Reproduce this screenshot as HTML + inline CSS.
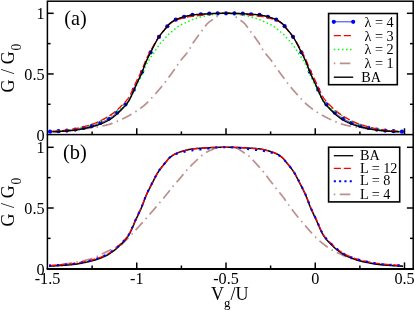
<!DOCTYPE html>
<html><head><meta charset="utf-8"><title>chart</title>
<style>html,body{margin:0;padding:0;background:#fff;}body{width:415px;height:311px;overflow:hidden;font-family:"Liberation Serif",serif;}</style>
</head><body>
<svg width="415" height="311" viewBox="0 0 415 311" style="display:block;will-change:transform">
<rect width="415" height="311" fill="#fff"/>
<path d="M49.00 131.93 L49.71 131.88 L50.42 131.84 L51.13 131.79 L51.84 131.75 L52.55 131.70 L53.26 131.65 L53.97 131.60 L54.68 131.55 L55.38 131.49 L56.09 131.44 L56.80 131.39 L57.51 131.33 L58.22 131.28 L58.93 131.22 L59.64 131.16 L60.35 131.10 L61.06 131.04 L61.77 130.98 L62.48 130.92 L63.19 130.86 L63.90 130.80 L64.61 130.74 L65.32 130.68 L66.03 130.61 L66.74 130.55 L67.44 130.49 L68.15 130.42 L68.86 130.36 L69.57 130.30 L70.28 130.23 L70.99 130.17 L71.70 130.10 L72.41 130.04 L73.12 129.97 L73.83 129.90 L74.54 129.84 L75.25 129.77 L75.96 129.70 L76.67 129.63 L77.38 129.56 L78.09 129.49 L78.80 129.42 L79.51 129.35 L80.21 129.28 L80.92 129.20 L81.63 129.13 L82.34 129.05 L83.05 128.97 L83.76 128.89 L84.47 128.81 L85.18 128.73 L85.89 128.65 L86.60 128.56 L87.31 128.47 L88.02 128.38 L88.73 128.29 L89.44 128.20 L90.15 128.10 L90.86 128.01 L91.57 127.91 L92.27 127.80 L92.98 127.70 L93.69 127.59 L94.40 127.48 L95.11 127.37 L95.82 127.25 L96.53 127.13 L97.24 127.01 L97.95 126.88 L98.66 126.75 L99.37 126.62 L100.08 126.48 L100.79 126.34 L101.50 126.20 L102.21 126.05 L102.92 125.90 L103.63 125.74 L104.33 125.58 L105.04 125.41 L105.75 125.24 L106.46 125.07 L107.17 124.89 L107.88 124.71 L108.59 124.52 L109.30 124.32 L110.01 124.11 L110.72 123.88 L111.43 123.64 L112.14 123.39 L112.85 123.13 L113.56 122.86 L114.27 122.58 L114.98 122.30 L115.69 122.00 L116.39 121.71 L117.10 121.40 L117.81 121.09 L118.52 120.78 L119.23 120.46 L119.94 120.14 L120.65 119.82 L121.36 119.50 L122.07 119.18 L122.78 118.84 L123.49 118.50 L124.20 118.16 L124.91 117.81 L125.62 117.45 L126.33 117.09 L127.04 116.72 L127.75 116.34 L128.45 115.96 L129.16 115.57 L129.87 115.18 L130.58 114.77 L131.29 114.36 L132.00 113.95 L132.71 113.52 L133.42 113.09 L134.13 112.65 L134.84 112.21 L135.55 111.75 L136.26 111.29 L136.97 110.82 L137.68 110.34 L138.39 109.84 L139.10 109.34 L139.81 108.82 L140.52 108.30 L141.22 107.76 L141.93 107.21 L142.64 106.64 L143.35 106.07 L144.06 105.48 L144.77 104.88 L145.48 104.26 L146.19 103.63 L146.90 102.99 L147.61 102.33 L148.32 101.66 L149.03 100.91 L149.74 100.12 L150.45 99.31 L151.16 98.51 L151.87 97.72 L152.58 96.94 L153.28 96.16 L153.99 95.38 L154.70 94.60 L155.41 93.81 L156.12 93.02 L156.83 92.23 L157.54 91.43 L158.25 90.62 L158.96 89.81 L159.67 88.98 L160.38 88.14 L161.09 87.29 L161.80 86.42 L162.51 85.54 L163.22 84.64 L163.93 83.73 L164.64 82.81 L165.34 81.87 L166.05 80.93 L166.76 79.98 L167.47 79.03 L168.18 78.06 L168.89 77.10 L169.60 76.13 L170.31 75.16 L171.02 74.20 L171.73 73.23 L172.44 72.26 L173.15 71.28 L173.86 70.28 L174.57 69.28 L175.28 68.27 L175.99 67.25 L176.70 66.24 L177.40 65.22 L178.11 64.21 L178.82 63.21 L179.53 62.22 L180.24 61.24 L180.95 60.28 L181.66 59.33 L182.37 58.41 L183.08 57.54 L183.79 56.70 L184.50 55.89 L185.21 55.08 L185.92 54.26 L186.63 53.41 L187.34 52.51 L188.05 51.54 L188.76 50.46 L189.46 49.27 L190.17 48.02 L190.88 46.74 L191.59 45.46 L192.30 44.21 L193.01 43.04 L193.72 41.95 L194.43 40.91 L195.14 39.89 L195.85 38.91 L196.56 37.94 L197.27 36.99 L197.98 36.05 L198.69 35.12 L199.40 34.20 L200.11 33.27 L200.82 32.34 L201.53 31.40 L202.23 30.43 L202.94 29.43 L203.65 28.41 L204.36 27.39 L205.07 26.40 L205.78 25.45 L206.49 24.57 L207.20 23.76 L207.91 23.05 L208.62 22.43 L209.33 21.85 L210.04 21.32 L210.75 20.82 L211.46 20.34 L212.17 19.86 L212.88 19.37 L213.59 18.86 L214.29 18.34 L215.00 17.80 L215.71 17.27 L216.42 16.75 L217.13 16.25 L217.84 15.79 L218.55 15.36 L219.26 14.91 L219.97 14.47 L220.68 14.07 L221.39 13.73 L222.10 13.49 L222.81 13.36 L223.52 13.25 L224.23 13.16 L224.94 13.10 L225.65 13.06 L226.35 13.06 L227.06 13.10 L227.77 13.16 L228.48 13.25 L229.19 13.36 L229.90 13.49 L230.61 13.73 L231.32 14.07 L232.03 14.47 L232.74 14.91 L233.45 15.36 L234.16 15.79 L234.87 16.25 L235.58 16.75 L236.29 17.27 L237.00 17.80 L237.71 18.34 L238.41 18.86 L239.12 19.37 L239.83 19.86 L240.54 20.34 L241.25 20.82 L241.96 21.32 L242.67 21.85 L243.38 22.43 L244.09 23.05 L244.80 23.76 L245.51 24.57 L246.22 25.45 L246.93 26.40 L247.64 27.39 L248.35 28.41 L249.06 29.43 L249.77 30.43 L250.47 31.40 L251.18 32.34 L251.89 33.27 L252.60 34.20 L253.31 35.12 L254.02 36.05 L254.73 36.99 L255.44 37.94 L256.15 38.91 L256.86 39.89 L257.57 40.91 L258.28 41.95 L258.99 43.04 L259.70 44.21 L260.41 45.46 L261.12 46.74 L261.83 48.02 L262.54 49.27 L263.24 50.46 L263.95 51.54 L264.66 52.51 L265.37 53.41 L266.08 54.26 L266.79 55.08 L267.50 55.89 L268.21 56.70 L268.92 57.54 L269.63 58.41 L270.34 59.33 L271.05 60.28 L271.76 61.24 L272.47 62.22 L273.18 63.21 L273.89 64.21 L274.60 65.22 L275.30 66.24 L276.01 67.25 L276.72 68.27 L277.43 69.28 L278.14 70.28 L278.85 71.28 L279.56 72.26 L280.27 73.23 L280.98 74.20 L281.69 75.16 L282.40 76.13 L283.11 77.10 L283.82 78.06 L284.53 79.03 L285.24 79.98 L285.95 80.93 L286.66 81.87 L287.36 82.81 L288.07 83.73 L288.78 84.64 L289.49 85.54 L290.20 86.42 L290.91 87.29 L291.62 88.14 L292.33 88.98 L293.04 89.81 L293.75 90.62 L294.46 91.43 L295.17 92.23 L295.88 93.02 L296.59 93.81 L297.30 94.60 L298.01 95.38 L298.72 96.16 L299.42 96.94 L300.13 97.72 L300.84 98.51 L301.55 99.31 L302.26 100.12 L302.97 100.91 L303.68 101.66 L304.39 102.33 L305.10 102.99 L305.81 103.63 L306.52 104.26 L307.23 104.88 L307.94 105.48 L308.65 106.07 L309.36 106.64 L310.07 107.21 L310.78 107.76 L311.48 108.30 L312.19 108.82 L312.90 109.34 L313.61 109.84 L314.32 110.34 L315.03 110.82 L315.74 111.29 L316.45 111.75 L317.16 112.21 L317.87 112.65 L318.58 113.09 L319.29 113.52 L320.00 113.95 L320.71 114.36 L321.42 114.77 L322.13 115.18 L322.84 115.57 L323.55 115.96 L324.25 116.34 L324.96 116.72 L325.67 117.09 L326.38 117.45 L327.09 117.81 L327.80 118.16 L328.51 118.50 L329.22 118.84 L329.93 119.18 L330.64 119.50 L331.35 119.82 L332.06 120.14 L332.77 120.46 L333.48 120.78 L334.19 121.09 L334.90 121.40 L335.61 121.71 L336.31 122.00 L337.02 122.30 L337.73 122.58 L338.44 122.86 L339.15 123.13 L339.86 123.39 L340.57 123.64 L341.28 123.88 L341.99 124.11 L342.70 124.32 L343.41 124.52 L344.12 124.71 L344.83 124.89 L345.54 125.07 L346.25 125.24 L346.96 125.41 L347.67 125.58 L348.37 125.74 L349.08 125.90 L349.79 126.05 L350.50 126.20 L351.21 126.34 L351.92 126.48 L352.63 126.62 L353.34 126.75 L354.05 126.88 L354.76 127.01 L355.47 127.13 L356.18 127.25 L356.89 127.37 L357.60 127.48 L358.31 127.59 L359.02 127.70 L359.73 127.80 L360.43 127.91 L361.14 128.01 L361.85 128.10 L362.56 128.20 L363.27 128.29 L363.98 128.38 L364.69 128.47 L365.40 128.56 L366.11 128.65 L366.82 128.73 L367.53 128.81 L368.24 128.89 L368.95 128.97 L369.66 129.05 L370.37 129.13 L371.08 129.20 L371.79 129.28 L372.49 129.35 L373.20 129.42 L373.91 129.49 L374.62 129.56 L375.33 129.63 L376.04 129.70 L376.75 129.77 L377.46 129.84 L378.17 129.90 L378.88 129.97 L379.59 130.04 L380.30 130.10 L381.01 130.17 L381.72 130.23 L382.43 130.30 L383.14 130.36 L383.85 130.42 L384.56 130.49 L385.26 130.55 L385.97 130.61 L386.68 130.68 L387.39 130.74 L388.10 130.80 L388.81 130.86 L389.52 130.92 L390.23 130.98 L390.94 131.04 L391.65 131.10 L392.36 131.16 L393.07 131.22 L393.78 131.28 L394.49 131.33 L395.20 131.39 L395.91 131.44 L396.62 131.49 L397.32 131.55 L398.03 131.60 L398.74 131.65 L399.45 131.70 L400.16 131.75 L400.87 131.79 L401.58 131.84 L402.29 131.88 L403.00 131.93" fill="none" stroke="rgb(188,143,143)" stroke-width="1.7" stroke-dasharray="1.5 4.5 10.5 4.5" stroke-dashoffset="15.2"/>
<path d="M50.00 131.67 L50.71 131.63 L51.41 131.59 L52.12 131.55 L52.82 131.52 L53.53 131.48 L54.23 131.44 L54.94 131.40 L55.64 131.36 L56.35 131.32 L57.05 131.28 L57.76 131.24 L58.46 131.20 L59.17 131.16 L59.88 131.12 L60.58 131.07 L61.29 131.03 L61.99 130.98 L62.70 130.93 L63.40 130.88 L64.11 130.82 L64.81 130.76 L65.52 130.70 L66.22 130.63 L66.93 130.56 L67.64 130.49 L68.34 130.41 L69.05 130.33 L69.75 130.25 L70.46 130.17 L71.16 130.08 L71.87 130.00 L72.57 129.91 L73.28 129.82 L73.98 129.73 L74.69 129.62 L75.39 129.52 L76.10 129.40 L76.81 129.28 L77.51 129.16 L78.22 129.03 L78.92 128.89 L79.63 128.75 L80.33 128.61 L81.04 128.47 L81.74 128.32 L82.45 128.17 L83.15 128.02 L83.86 127.87 L84.57 127.71 L85.27 127.56 L85.98 127.40 L86.68 127.25 L87.39 127.08 L88.09 126.91 L88.80 126.74 L89.50 126.56 L90.21 126.38 L90.91 126.19 L91.62 126.00 L92.32 125.80 L93.03 125.59 L93.74 125.38 L94.44 125.15 L95.15 124.92 L95.85 124.68 L96.56 124.43 L97.26 124.17 L97.97 123.90 L98.67 123.63 L99.38 123.34 L100.08 123.05 L100.79 122.75 L101.49 122.44 L102.20 122.12 L102.91 121.80 L103.61 121.46 L104.32 121.12 L105.02 120.77 L105.73 120.42 L106.43 120.05 L107.14 119.68 L107.84 119.29 L108.55 118.89 L109.25 118.46 L109.96 118.01 L110.67 117.55 L111.37 117.06 L112.08 116.56 L112.78 116.04 L113.49 115.51 L114.19 114.98 L114.90 114.43 L115.60 113.88 L116.31 113.30 L117.01 112.70 L117.72 112.08 L118.42 111.43 L119.13 110.77 L119.84 110.09 L120.54 109.41 L121.25 108.74 L121.95 108.07 L122.66 107.39 L123.36 106.69 L124.07 105.98 L124.77 105.23 L125.48 104.45 L126.18 103.63 L126.89 102.76 L127.60 101.83 L128.30 100.84 L129.01 99.73 L129.71 98.50 L130.42 97.15 L131.12 95.71 L131.83 94.20 L132.53 92.64 L133.24 91.05 L133.94 89.45 L134.65 87.85 L135.35 86.28 L136.06 84.76 L136.77 83.30 L137.47 81.87 L138.18 80.45 L138.88 79.03 L139.59 77.58 L140.29 76.11 L141.00 74.58 L141.70 72.98 L142.41 71.28 L143.11 69.44 L143.82 67.54 L144.53 65.63 L145.23 63.78 L145.94 62.04 L146.64 60.44 L147.35 58.91 L148.05 57.44 L148.76 56.00 L149.46 54.60 L150.17 53.21 L150.87 51.83 L151.58 50.43 L152.28 49.03 L152.99 47.62 L153.70 46.23 L154.40 44.85 L155.11 43.49 L155.81 42.17 L156.52 40.89 L157.22 39.67 L157.93 38.50 L158.63 37.40 L159.34 36.36 L160.04 35.36 L160.75 34.40 L161.45 33.48 L162.16 32.58 L162.87 31.71 L163.57 30.85 L164.28 30.00 L164.98 29.16 L165.69 28.31 L166.39 27.45 L167.10 26.57 L167.80 25.66 L168.51 24.79 L169.21 24.04 L169.92 23.42 L170.63 22.85 L171.33 22.31 L172.04 21.81 L172.74 21.34 L173.45 20.90 L174.15 20.49 L174.86 20.10 L175.56 19.74 L176.27 19.41 L176.97 19.11 L177.68 18.81 L178.38 18.54 L179.09 18.28 L179.80 18.04 L180.50 17.80 L181.21 17.58 L181.91 17.37 L182.62 17.17 L183.32 16.97 L184.03 16.78 L184.73 16.59 L185.44 16.39 L186.14 16.21 L186.85 16.02 L187.56 15.84 L188.26 15.67 L188.97 15.51 L189.67 15.36 L190.38 15.22 L191.08 15.09 L191.79 14.98 L192.49 14.89 L193.20 14.81 L193.90 14.74 L194.61 14.68 L195.31 14.62 L196.02 14.56 L196.73 14.51 L197.43 14.46 L198.14 14.41 L198.84 14.37 L199.55 14.32 L200.25 14.28 L200.96 14.23 L201.66 14.19 L202.37 14.14 L203.07 14.10 L203.78 14.05 L204.48 14.00 L205.19 13.95 L205.90 13.91 L206.60 13.86 L207.31 13.81 L208.01 13.77 L208.72 13.73 L209.42 13.68 L210.13 13.64 L210.83 13.61 L211.54 13.57 L212.24 13.54 L212.95 13.51 L213.66 13.48 L214.36 13.46 L215.07 13.44 L215.77 13.42 L216.48 13.41 L217.18 13.40 L217.89 13.38 L218.59 13.37 L219.30 13.36 L220.00 13.35 L220.71 13.34 L221.41 13.33 L222.12 13.32 L222.83 13.32 L223.53 13.31 L224.24 13.30 L224.94 13.30 L225.65 13.30 L226.35 13.30 L227.06 13.30 L227.76 13.30 L228.47 13.31 L229.17 13.32 L229.88 13.32 L230.59 13.33 L231.29 13.34 L232.00 13.35 L232.70 13.36 L233.41 13.37 L234.11 13.38 L234.82 13.40 L235.52 13.41 L236.23 13.42 L236.93 13.44 L237.64 13.46 L238.34 13.48 L239.05 13.51 L239.76 13.54 L240.46 13.57 L241.17 13.61 L241.87 13.64 L242.58 13.68 L243.28 13.73 L243.99 13.77 L244.69 13.81 L245.40 13.86 L246.10 13.91 L246.81 13.95 L247.52 14.00 L248.22 14.05 L248.93 14.10 L249.63 14.14 L250.34 14.19 L251.04 14.23 L251.75 14.28 L252.45 14.32 L253.16 14.37 L253.86 14.41 L254.57 14.46 L255.27 14.51 L255.98 14.56 L256.69 14.62 L257.39 14.68 L258.10 14.74 L258.80 14.81 L259.51 14.89 L260.21 14.98 L260.92 15.09 L261.62 15.22 L262.33 15.36 L263.03 15.51 L263.74 15.67 L264.44 15.84 L265.15 16.02 L265.86 16.21 L266.56 16.39 L267.27 16.59 L267.97 16.78 L268.68 16.97 L269.38 17.17 L270.09 17.37 L270.79 17.58 L271.50 17.80 L272.20 18.04 L272.91 18.28 L273.62 18.54 L274.32 18.81 L275.03 19.11 L275.73 19.41 L276.44 19.74 L277.14 20.10 L277.85 20.49 L278.55 20.90 L279.26 21.34 L279.96 21.81 L280.67 22.31 L281.37 22.85 L282.08 23.42 L282.79 24.04 L283.49 24.79 L284.20 25.66 L284.90 26.57 L285.61 27.45 L286.31 28.31 L287.02 29.16 L287.72 30.00 L288.43 30.85 L289.13 31.71 L289.84 32.58 L290.55 33.48 L291.25 34.40 L291.96 35.36 L292.66 36.36 L293.37 37.40 L294.07 38.50 L294.78 39.67 L295.48 40.89 L296.19 42.17 L296.89 43.49 L297.60 44.85 L298.30 46.23 L299.01 47.62 L299.72 49.03 L300.42 50.43 L301.13 51.83 L301.83 53.21 L302.54 54.60 L303.24 56.00 L303.95 57.44 L304.65 58.91 L305.36 60.44 L306.06 62.04 L306.77 63.78 L307.47 65.63 L308.18 67.54 L308.89 69.44 L309.59 71.28 L310.30 72.98 L311.00 74.58 L311.71 76.11 L312.41 77.58 L313.12 79.03 L313.82 80.45 L314.53 81.87 L315.23 83.30 L315.94 84.76 L316.65 86.28 L317.35 87.85 L318.06 89.45 L318.76 91.05 L319.47 92.64 L320.17 94.20 L320.88 95.71 L321.58 97.15 L322.29 98.50 L322.99 99.73 L323.70 100.84 L324.40 101.83 L325.11 102.76 L325.82 103.63 L326.52 104.45 L327.23 105.23 L327.93 105.98 L328.64 106.69 L329.34 107.39 L330.05 108.07 L330.75 108.74 L331.46 109.41 L332.16 110.09 L332.87 110.77 L333.58 111.43 L334.28 112.08 L334.99 112.70 L335.69 113.30 L336.40 113.88 L337.10 114.43 L337.81 114.98 L338.51 115.51 L339.22 116.04 L339.92 116.56 L340.63 117.06 L341.33 117.55 L342.04 118.01 L342.75 118.46 L343.45 118.89 L344.16 119.29 L344.86 119.68 L345.57 120.05 L346.27 120.42 L346.98 120.77 L347.68 121.12 L348.39 121.46 L349.09 121.80 L349.80 122.12 L350.51 122.44 L351.21 122.75 L351.92 123.05 L352.62 123.34 L353.33 123.63 L354.03 123.90 L354.74 124.17 L355.44 124.43 L356.15 124.68 L356.85 124.92 L357.56 125.15 L358.26 125.38 L358.97 125.59 L359.68 125.80 L360.38 126.00 L361.09 126.19 L361.79 126.38 L362.50 126.56 L363.20 126.74 L363.91 126.91 L364.61 127.08 L365.32 127.25 L366.02 127.40 L366.73 127.56 L367.43 127.71 L368.14 127.87 L368.85 128.02 L369.55 128.17 L370.26 128.32 L370.96 128.47 L371.67 128.61 L372.37 128.75 L373.08 128.89 L373.78 129.03 L374.49 129.16 L375.19 129.28 L375.90 129.40 L376.61 129.52 L377.31 129.62 L378.02 129.73 L378.72 129.82 L379.43 129.91 L380.13 130.00 L380.84 130.08 L381.54 130.17 L382.25 130.25 L382.95 130.33 L383.66 130.41 L384.36 130.49 L385.07 130.56 L385.78 130.63 L386.48 130.70 L387.19 130.76 L387.89 130.82 L388.60 130.88 L389.30 130.93 L390.01 130.98 L390.71 131.03 L391.42 131.07 L392.12 131.12 L392.83 131.16 L393.54 131.20 L394.24 131.24 L394.95 131.28 L395.65 131.32 L396.36 131.36 L397.06 131.40 L397.77 131.44 L398.47 131.48 L399.18 131.52 L399.88 131.55 L400.59 131.59 L401.29 131.63 L402.00 131.67" fill="none" stroke="rgb(0,0,255)" stroke-width="0.8"/>
<circle cx="50.05" cy="131.66" r="2.1" fill="rgb(0,0,255)"/>
<circle cx="58.43" cy="131.20" r="2.1" fill="rgb(0,0,255)"/>
<circle cx="66.81" cy="130.57" r="2.1" fill="rgb(0,0,255)"/>
<circle cx="75.18" cy="129.55" r="2.1" fill="rgb(0,0,255)"/>
<circle cx="83.56" cy="127.93" r="2.1" fill="rgb(0,0,255)"/>
<circle cx="91.94" cy="125.91" r="2.1" fill="rgb(0,0,255)"/>
<circle cx="100.32" cy="122.95" r="2.1" fill="rgb(0,0,255)"/>
<circle cx="108.70" cy="118.80" r="2.1" fill="rgb(0,0,255)"/>
<circle cx="117.07" cy="112.65" r="2.1" fill="rgb(0,0,255)"/>
<circle cx="125.45" cy="104.48" r="2.1" fill="rgb(0,0,255)"/>
<circle cx="133.83" cy="89.71" r="2.1" fill="rgb(0,0,255)"/>
<circle cx="142.21" cy="71.78" r="2.1" fill="rgb(0,0,255)"/>
<circle cx="150.59" cy="52.39" r="2.1" fill="rgb(0,0,255)"/>
<circle cx="158.96" cy="36.90" r="2.1" fill="rgb(0,0,255)"/>
<circle cx="167.34" cy="26.25" r="2.1" fill="rgb(0,0,255)"/>
<circle cx="175.72" cy="19.67" r="2.1" fill="rgb(0,0,255)"/>
<circle cx="184.10" cy="16.76" r="2.1" fill="rgb(0,0,255)"/>
<circle cx="192.48" cy="14.89" r="2.1" fill="rgb(0,0,255)"/>
<circle cx="200.85" cy="14.24" r="2.1" fill="rgb(0,0,255)"/>
<circle cx="209.23" cy="13.70" r="2.1" fill="rgb(0,0,255)"/>
<circle cx="217.61" cy="13.39" r="2.1" fill="rgb(0,0,255)"/>
<circle cx="225.99" cy="13.30" r="2.1" fill="rgb(0,0,255)"/>
<circle cx="234.37" cy="13.39" r="2.1" fill="rgb(0,0,255)"/>
<circle cx="242.74" cy="13.69" r="2.1" fill="rgb(0,0,255)"/>
<circle cx="251.12" cy="14.24" r="2.1" fill="rgb(0,0,255)"/>
<circle cx="259.50" cy="14.89" r="2.1" fill="rgb(0,0,255)"/>
<circle cx="267.88" cy="16.75" r="2.1" fill="rgb(0,0,255)"/>
<circle cx="276.26" cy="19.66" r="2.1" fill="rgb(0,0,255)"/>
<circle cx="284.63" cy="26.22" r="2.1" fill="rgb(0,0,255)"/>
<circle cx="293.01" cy="36.87" r="2.1" fill="rgb(0,0,255)"/>
<circle cx="301.39" cy="52.35" r="2.1" fill="rgb(0,0,255)"/>
<circle cx="309.77" cy="71.72" r="2.1" fill="rgb(0,0,255)"/>
<circle cx="318.15" cy="89.65" r="2.1" fill="rgb(0,0,255)"/>
<circle cx="326.52" cy="104.46" r="2.1" fill="rgb(0,0,255)"/>
<circle cx="334.90" cy="112.63" r="2.1" fill="rgb(0,0,255)"/>
<circle cx="343.28" cy="118.79" r="2.1" fill="rgb(0,0,255)"/>
<circle cx="351.66" cy="122.94" r="2.1" fill="rgb(0,0,255)"/>
<circle cx="360.04" cy="125.90" r="2.1" fill="rgb(0,0,255)"/>
<circle cx="368.41" cy="127.93" r="2.1" fill="rgb(0,0,255)"/>
<circle cx="376.79" cy="129.55" r="2.1" fill="rgb(0,0,255)"/>
<circle cx="385.17" cy="130.57" r="2.1" fill="rgb(0,0,255)"/>
<circle cx="393.55" cy="131.20" r="2.1" fill="rgb(0,0,255)"/>
<circle cx="401.93" cy="131.66" r="2.1" fill="rgb(0,0,255)"/>
<path d="M52.30 131.41 L53.00 131.36 L53.69 131.32 L54.39 131.28 L55.08 131.23 L55.78 131.19 L56.48 131.14 L57.17 131.09 L57.87 131.05 L58.57 131.00 L59.26 130.95 L59.96 130.89 L60.65 130.84 L61.35 130.79 L62.05 130.73 L62.74 130.67 L63.44 130.60 L64.14 130.53 L64.83 130.46 L65.53 130.37 L66.22 130.29 L66.92 130.20 L67.62 130.10 L68.31 130.01 L69.01 129.91 L69.70 129.80 L70.40 129.70 L71.10 129.59 L71.79 129.48 L72.49 129.37 L73.19 129.26 L73.88 129.15 L74.58 129.02 L75.27 128.90 L75.97 128.76 L76.67 128.62 L77.36 128.48 L78.06 128.33 L78.76 128.18 L79.45 128.02 L80.15 127.86 L80.84 127.69 L81.54 127.53 L82.24 127.36 L82.93 127.18 L83.63 127.01 L84.32 126.84 L85.02 126.66 L85.72 126.48 L86.41 126.30 L87.11 126.12 L87.81 125.93 L88.50 125.74 L89.20 125.54 L89.89 125.34 L90.59 125.13 L91.29 124.91 L91.98 124.69 L92.68 124.46 L93.38 124.22 L94.07 123.97 L94.77 123.71 L95.46 123.44 L96.16 123.16 L96.86 122.87 L97.55 122.57 L98.25 122.26 L98.94 121.94 L99.64 121.62 L100.34 121.29 L101.03 120.95 L101.73 120.60 L102.43 120.25 L103.12 119.89 L103.82 119.53 L104.51 119.15 L105.21 118.78 L105.91 118.40 L106.60 118.01 L107.30 117.62 L108.00 117.23 L108.69 116.81 L109.39 116.38 L110.08 115.93 L110.78 115.48 L111.48 115.01 L112.17 114.55 L112.87 114.08 L113.56 113.61 L114.26 113.15 L114.96 112.68 L115.65 112.21 L116.35 111.73 L117.05 111.22 L117.74 110.70 L118.44 110.16 L119.13 109.61 L119.83 109.04 L120.53 108.47 L121.22 107.91 L121.92 107.35 L122.62 106.78 L123.31 106.21 L124.01 105.64 L124.70 105.06 L125.40 104.46 L126.10 103.82 L126.79 103.14 L127.49 102.41 L128.18 101.61 L128.88 100.69 L129.58 99.63 L130.27 98.44 L130.97 97.15 L131.67 95.78 L132.36 94.36 L133.06 92.89 L133.75 91.40 L134.45 89.91 L135.15 88.43 L135.84 86.99 L136.54 85.61 L137.24 84.26 L137.93 82.92 L138.63 81.57 L139.32 80.21 L140.02 78.82 L140.72 77.39 L141.41 75.92 L142.11 74.39 L142.81 72.73 L143.50 71.02 L144.20 69.30 L144.89 67.63 L145.59 66.07 L146.29 64.67 L146.98 63.38 L147.68 62.16 L148.37 60.99 L149.07 59.87 L149.77 58.80 L150.46 57.79 L151.16 56.80 L151.86 55.81 L152.55 54.81 L153.25 53.79 L153.94 52.73 L154.64 51.62 L155.34 50.49 L156.03 49.37 L156.73 48.29 L157.43 47.25 L158.12 46.26 L158.82 45.33 L159.51 44.44 L160.21 43.58 L160.91 42.76 L161.60 41.96 L162.30 41.18 L162.99 40.41 L163.69 39.66 L164.39 38.91 L165.08 38.17 L165.78 37.42 L166.48 36.67 L167.17 35.88 L167.87 35.06 L168.56 34.28 L169.26 33.61 L169.96 33.05 L170.65 32.52 L171.35 32.00 L172.05 31.47 L172.74 30.91 L173.44 30.32 L174.13 29.72 L174.83 29.11 L175.53 28.51 L176.22 27.92 L176.92 27.36 L177.61 26.84 L178.31 26.35 L179.01 25.92 L179.70 25.53 L180.40 25.15 L181.10 24.80 L181.79 24.46 L182.49 24.13 L183.18 23.81 L183.88 23.50 L184.58 23.18 L185.27 22.87 L185.97 22.55 L186.67 22.22 L187.36 21.90 L188.06 21.56 L188.75 21.22 L189.45 20.88 L190.15 20.55 L190.84 20.22 L191.54 19.92 L192.23 19.63 L192.93 19.37 L193.63 19.13 L194.32 18.89 L195.02 18.66 L195.72 18.44 L196.41 18.23 L197.11 18.02 L197.80 17.83 L198.50 17.64 L199.20 17.46 L199.89 17.28 L200.59 17.10 L201.29 16.93 L201.98 16.75 L202.68 16.58 L203.37 16.41 L204.07 16.25 L204.77 16.08 L205.46 15.92 L206.16 15.77 L206.85 15.62 L207.55 15.47 L208.25 15.32 L208.94 15.17 L209.64 15.03 L210.34 14.90 L211.03 14.77 L211.73 14.64 L212.42 14.53 L213.12 14.42 L213.82 14.33 L214.51 14.24 L215.21 14.16 L215.91 14.08 L216.60 14.01 L217.30 13.93 L217.99 13.86 L218.69 13.79 L219.39 13.73 L220.08 13.67 L220.78 13.61 L221.47 13.55 L222.17 13.50 L222.87 13.45 L223.56 13.41 L224.26 13.37 L224.96 13.34 L225.65 13.31 L226.35 13.31 L227.04 13.34 L227.74 13.37 L228.44 13.41 L229.13 13.45 L229.83 13.50 L230.53 13.55 L231.22 13.61 L231.92 13.67 L232.61 13.73 L233.31 13.79 L234.01 13.86 L234.70 13.93 L235.40 14.01 L236.09 14.08 L236.79 14.16 L237.49 14.24 L238.18 14.33 L238.88 14.42 L239.58 14.53 L240.27 14.64 L240.97 14.77 L241.66 14.90 L242.36 15.03 L243.06 15.17 L243.75 15.32 L244.45 15.47 L245.15 15.62 L245.84 15.77 L246.54 15.92 L247.23 16.08 L247.93 16.25 L248.63 16.41 L249.32 16.58 L250.02 16.75 L250.71 16.93 L251.41 17.10 L252.11 17.28 L252.80 17.46 L253.50 17.64 L254.20 17.83 L254.89 18.02 L255.59 18.23 L256.28 18.44 L256.98 18.66 L257.68 18.89 L258.37 19.13 L259.07 19.37 L259.77 19.63 L260.46 19.92 L261.16 20.22 L261.85 20.55 L262.55 20.88 L263.25 21.22 L263.94 21.56 L264.64 21.90 L265.33 22.22 L266.03 22.55 L266.73 22.87 L267.42 23.18 L268.12 23.50 L268.82 23.81 L269.51 24.13 L270.21 24.46 L270.90 24.80 L271.60 25.15 L272.30 25.53 L272.99 25.92 L273.69 26.35 L274.39 26.84 L275.08 27.36 L275.78 27.92 L276.47 28.51 L277.17 29.11 L277.87 29.72 L278.56 30.32 L279.26 30.91 L279.95 31.47 L280.65 32.00 L281.35 32.52 L282.04 33.05 L282.74 33.61 L283.44 34.28 L284.13 35.06 L284.83 35.88 L285.52 36.67 L286.22 37.42 L286.92 38.17 L287.61 38.91 L288.31 39.66 L289.01 40.41 L289.70 41.18 L290.40 41.96 L291.09 42.76 L291.79 43.58 L292.49 44.44 L293.18 45.33 L293.88 46.26 L294.57 47.25 L295.27 48.29 L295.97 49.37 L296.66 50.49 L297.36 51.62 L298.06 52.73 L298.75 53.79 L299.45 54.81 L300.14 55.81 L300.84 56.80 L301.54 57.79 L302.23 58.80 L302.93 59.87 L303.63 60.99 L304.32 62.16 L305.02 63.38 L305.71 64.67 L306.41 66.07 L307.11 67.63 L307.80 69.30 L308.50 71.02 L309.19 72.73 L309.89 74.39 L310.59 75.92 L311.28 77.39 L311.98 78.82 L312.68 80.21 L313.37 81.57 L314.07 82.92 L314.76 84.26 L315.46 85.61 L316.16 86.99 L316.85 88.43 L317.55 89.91 L318.25 91.40 L318.94 92.89 L319.64 94.36 L320.33 95.78 L321.03 97.15 L321.73 98.44 L322.42 99.63 L323.12 100.69 L323.82 101.61 L324.51 102.41 L325.21 103.14 L325.90 103.82 L326.60 104.46 L327.30 105.06 L327.99 105.64 L328.69 106.21 L329.38 106.78 L330.08 107.35 L330.78 107.91 L331.47 108.47 L332.17 109.04 L332.87 109.61 L333.56 110.16 L334.26 110.70 L334.95 111.22 L335.65 111.73 L336.35 112.21 L337.04 112.68 L337.74 113.15 L338.44 113.61 L339.13 114.08 L339.83 114.55 L340.52 115.01 L341.22 115.48 L341.92 115.93 L342.61 116.38 L343.31 116.81 L344.00 117.23 L344.70 117.62 L345.40 118.01 L346.09 118.40 L346.79 118.78 L347.49 119.15 L348.18 119.53 L348.88 119.89 L349.57 120.25 L350.27 120.60 L350.97 120.95 L351.66 121.29 L352.36 121.62 L353.06 121.94 L353.75 122.26 L354.45 122.57 L355.14 122.87 L355.84 123.16 L356.54 123.44 L357.23 123.71 L357.93 123.97 L358.62 124.22 L359.32 124.46 L360.02 124.69 L360.71 124.91 L361.41 125.13 L362.11 125.34 L362.80 125.54 L363.50 125.74 L364.19 125.93 L364.89 126.12 L365.59 126.30 L366.28 126.48 L366.98 126.66 L367.68 126.84 L368.37 127.01 L369.07 127.18 L369.76 127.36 L370.46 127.53 L371.16 127.69 L371.85 127.86 L372.55 128.02 L373.24 128.18 L373.94 128.33 L374.64 128.48 L375.33 128.62 L376.03 128.76 L376.73 128.90 L377.42 129.02 L378.12 129.15 L378.81 129.26 L379.51 129.37 L380.21 129.48 L380.90 129.59 L381.60 129.70 L382.30 129.80 L382.99 129.91 L383.69 130.01 L384.38 130.10 L385.08 130.20 L385.78 130.29 L386.47 130.37 L387.17 130.46 L387.86 130.53 L388.56 130.60 L389.26 130.67 L389.95 130.73 L390.65 130.79 L391.35 130.84 L392.04 130.89 L392.74 130.95 L393.43 131.00 L394.13 131.05 L394.83 131.09 L395.52 131.14 L396.22 131.19 L396.92 131.23 L397.61 131.28 L398.31 131.32 L399.00 131.36 L399.70 131.41" fill="none" stroke="rgb(0,255,0)" stroke-width="1.5" stroke-dasharray="1.5 2.55"/>
<path d="M52.30 131.28 L53.00 131.24 L53.69 131.20 L54.39 131.16 L55.08 131.11 L55.78 131.07 L56.48 131.02 L57.17 130.97 L57.87 130.92 L58.57 130.88 L59.26 130.82 L59.96 130.77 L60.65 130.72 L61.35 130.67 L62.05 130.61 L62.74 130.55 L63.44 130.48 L64.14 130.41 L64.83 130.34 L65.53 130.26 L66.22 130.17 L66.92 130.08 L67.62 129.99 L68.31 129.89 L69.01 129.79 L69.70 129.69 L70.40 129.59 L71.10 129.48 L71.79 129.37 L72.49 129.26 L73.19 129.15 L73.88 129.03 L74.58 128.90 L75.27 128.77 L75.97 128.63 L76.67 128.48 L77.36 128.33 L78.06 128.18 L78.76 128.01 L79.45 127.85 L80.15 127.68 L80.84 127.50 L81.54 127.33 L82.24 127.15 L82.93 126.96 L83.63 126.78 L84.32 126.59 L85.02 126.41 L85.72 126.22 L86.41 126.03 L87.11 125.83 L87.81 125.63 L88.50 125.43 L89.20 125.22 L89.89 125.01 L90.59 124.78 L91.29 124.56 L91.98 124.33 L92.68 124.09 L93.38 123.84 L94.07 123.58 L94.77 123.30 L95.46 123.02 L96.16 122.73 L96.86 122.43 L97.55 122.11 L98.25 121.79 L98.94 121.47 L99.64 121.13 L100.34 120.78 L101.03 120.43 L101.73 120.08 L102.43 119.71 L103.12 119.34 L103.82 118.97 L104.51 118.59 L105.21 118.20 L105.91 117.81 L106.60 117.42 L107.30 117.03 L108.00 116.63 L108.69 116.21 L109.39 115.77 L110.08 115.33 L110.78 114.86 L111.48 114.38 L112.17 113.87 L112.87 113.36 L113.56 112.83 L114.26 112.30 L114.96 111.75 L115.65 111.20 L116.35 110.62 L117.05 110.02 L117.74 109.39 L118.44 108.75 L119.13 108.08 L119.83 107.41 L120.53 106.73 L121.22 106.05 L121.92 105.37 L122.62 104.69 L123.31 104.00 L124.01 103.29 L124.70 102.55 L125.40 101.79 L126.10 100.98 L126.79 100.13 L127.49 99.23 L128.18 98.28 L128.88 97.21 L129.58 96.02 L130.27 94.71 L130.97 93.31 L131.67 91.83 L132.36 90.30 L133.06 88.73 L133.75 87.15 L134.45 85.57 L135.15 84.00 L135.84 82.48 L136.54 81.02 L137.24 79.60 L137.93 78.21 L138.63 76.82 L139.32 75.42 L140.02 74.01 L140.72 72.56 L141.41 71.06 L142.11 69.48 L142.81 67.77 L143.50 65.98 L144.20 64.16 L144.89 62.38 L145.59 60.70 L146.29 59.15 L146.98 57.70 L147.68 56.31 L148.37 54.97 L149.07 53.67 L149.77 52.38 L150.46 51.11 L151.16 49.83 L151.86 48.54 L152.55 47.25 L153.25 45.98 L153.94 44.71 L154.64 43.47 L155.34 42.26 L156.03 41.08 L156.73 39.95 L157.43 38.86 L158.12 37.82 L158.82 36.85 L159.51 35.92 L160.21 35.02 L160.91 34.14 L161.60 33.28 L162.30 32.44 L162.99 31.61 L163.69 30.79 L164.39 29.97 L165.08 29.16 L165.78 28.34 L166.48 27.51 L167.17 26.66 L167.87 25.78 L168.56 24.96 L169.26 24.25 L169.96 23.68 L170.65 23.16 L171.35 22.67 L172.05 22.22 L172.74 21.79 L173.44 21.40 L174.13 21.04 L174.83 20.71 L175.53 20.41 L176.22 20.12 L176.92 19.86 L177.61 19.62 L178.31 19.39 L179.01 19.17 L179.70 18.97 L180.40 18.77 L181.10 18.58 L181.79 18.39 L182.49 18.21 L183.18 18.04 L183.88 17.88 L184.58 17.71 L185.27 17.55 L185.97 17.39 L186.67 17.23 L187.36 17.07 L188.06 16.92 L188.75 16.78 L189.45 16.65 L190.15 16.52 L190.84 16.41 L191.54 16.31 L192.23 16.23 L192.93 16.16 L193.63 16.09 L194.32 16.03 L195.02 15.97 L195.72 15.92 L196.41 15.86 L197.11 15.79 L197.80 15.71 L198.50 15.62 L199.20 15.53 L199.89 15.43 L200.59 15.32 L201.29 15.22 L201.98 15.11 L202.68 15.00 L203.37 14.90 L204.07 14.79 L204.77 14.70 L205.46 14.60 L206.16 14.50 L206.85 14.39 L207.55 14.28 L208.25 14.18 L208.94 14.07 L209.64 13.97 L210.34 13.87 L211.03 13.78 L211.73 13.70 L212.42 13.62 L213.12 13.55 L213.82 13.50 L214.51 13.46 L215.21 13.43 L215.91 13.42 L216.60 13.41 L217.30 13.39 L217.99 13.38 L218.69 13.37 L219.39 13.36 L220.08 13.35 L220.78 13.34 L221.47 13.33 L222.17 13.32 L222.87 13.31 L223.56 13.31 L224.26 13.30 L224.96 13.30 L225.65 13.30 L226.35 13.30 L227.04 13.30 L227.74 13.30 L228.44 13.31 L229.13 13.31 L229.83 13.32 L230.53 13.33 L231.22 13.34 L231.92 13.35 L232.61 13.36 L233.31 13.37 L234.01 13.38 L234.70 13.39 L235.40 13.41 L236.09 13.42 L236.79 13.43 L237.49 13.46 L238.18 13.50 L238.88 13.55 L239.58 13.62 L240.27 13.70 L240.97 13.78 L241.66 13.87 L242.36 13.97 L243.06 14.07 L243.75 14.18 L244.45 14.28 L245.15 14.39 L245.84 14.50 L246.54 14.60 L247.23 14.70 L247.93 14.79 L248.63 14.90 L249.32 15.00 L250.02 15.11 L250.71 15.22 L251.41 15.32 L252.11 15.43 L252.80 15.53 L253.50 15.62 L254.20 15.71 L254.89 15.79 L255.59 15.86 L256.28 15.92 L256.98 15.97 L257.68 16.03 L258.37 16.09 L259.07 16.16 L259.77 16.23 L260.46 16.31 L261.16 16.41 L261.85 16.52 L262.55 16.65 L263.25 16.78 L263.94 16.92 L264.64 17.07 L265.33 17.23 L266.03 17.39 L266.73 17.55 L267.42 17.71 L268.12 17.88 L268.82 18.04 L269.51 18.21 L270.21 18.39 L270.90 18.58 L271.60 18.77 L272.30 18.97 L272.99 19.17 L273.69 19.39 L274.39 19.62 L275.08 19.86 L275.78 20.12 L276.47 20.41 L277.17 20.71 L277.87 21.04 L278.56 21.40 L279.26 21.79 L279.95 22.22 L280.65 22.67 L281.35 23.16 L282.04 23.68 L282.74 24.25 L283.44 24.96 L284.13 25.78 L284.83 26.66 L285.52 27.51 L286.22 28.34 L286.92 29.16 L287.61 29.97 L288.31 30.79 L289.01 31.61 L289.70 32.44 L290.40 33.28 L291.09 34.14 L291.79 35.02 L292.49 35.92 L293.18 36.85 L293.88 37.82 L294.57 38.86 L295.27 39.95 L295.97 41.08 L296.66 42.26 L297.36 43.47 L298.06 44.71 L298.75 45.98 L299.45 47.25 L300.14 48.54 L300.84 49.83 L301.54 51.11 L302.23 52.38 L302.93 53.67 L303.63 54.97 L304.32 56.31 L305.02 57.70 L305.71 59.15 L306.41 60.70 L307.11 62.38 L307.80 64.16 L308.50 65.98 L309.19 67.77 L309.89 69.48 L310.59 71.06 L311.28 72.56 L311.98 74.01 L312.68 75.42 L313.37 76.82 L314.07 78.21 L314.76 79.60 L315.46 81.02 L316.16 82.48 L316.85 84.00 L317.55 85.57 L318.25 87.15 L318.94 88.73 L319.64 90.30 L320.33 91.83 L321.03 93.31 L321.73 94.71 L322.42 96.02 L323.12 97.21 L323.82 98.28 L324.51 99.23 L325.21 100.13 L325.90 100.98 L326.60 101.79 L327.30 102.55 L327.99 103.29 L328.69 104.00 L329.38 104.69 L330.08 105.37 L330.78 106.05 L331.47 106.73 L332.17 107.41 L332.87 108.08 L333.56 108.75 L334.26 109.39 L334.95 110.02 L335.65 110.62 L336.35 111.20 L337.04 111.75 L337.74 112.30 L338.44 112.83 L339.13 113.36 L339.83 113.87 L340.52 114.38 L341.22 114.86 L341.92 115.33 L342.61 115.77 L343.31 116.21 L344.00 116.63 L344.70 117.03 L345.40 117.42 L346.09 117.81 L346.79 118.20 L347.49 118.59 L348.18 118.97 L348.88 119.34 L349.57 119.71 L350.27 120.08 L350.97 120.43 L351.66 120.78 L352.36 121.13 L353.06 121.47 L353.75 121.79 L354.45 122.11 L355.14 122.43 L355.84 122.73 L356.54 123.02 L357.23 123.30 L357.93 123.58 L358.62 123.84 L359.32 124.09 L360.02 124.33 L360.71 124.56 L361.41 124.78 L362.11 125.01 L362.80 125.22 L363.50 125.43 L364.19 125.63 L364.89 125.83 L365.59 126.03 L366.28 126.22 L366.98 126.41 L367.68 126.59 L368.37 126.78 L369.07 126.96 L369.76 127.15 L370.46 127.33 L371.16 127.50 L371.85 127.68 L372.55 127.85 L373.24 128.01 L373.94 128.18 L374.64 128.33 L375.33 128.48 L376.03 128.63 L376.73 128.77 L377.42 128.90 L378.12 129.03 L378.81 129.15 L379.51 129.26 L380.21 129.37 L380.90 129.48 L381.60 129.59 L382.30 129.69 L382.99 129.79 L383.69 129.89 L384.38 129.99 L385.08 130.08 L385.78 130.17 L386.47 130.26 L387.17 130.34 L387.86 130.41 L388.56 130.48 L389.26 130.55 L389.95 130.61 L390.65 130.67 L391.35 130.72 L392.04 130.77 L392.74 130.82 L393.43 130.88 L394.13 130.92 L394.83 130.97 L395.52 131.02 L396.22 131.07 L396.92 131.11 L397.61 131.16 L398.31 131.20 L399.00 131.24 L399.70 131.28" fill="none" stroke="rgb(255,0,0)" stroke-width="1.3" stroke-dasharray="7.1 2.9"/>
<path d="M52.30 131.91 L53.00 131.87 L53.69 131.83 L54.39 131.79 L55.08 131.76 L55.78 131.72 L56.48 131.68 L57.17 131.64 L57.87 131.60 L58.57 131.56 L59.26 131.52 L59.96 131.48 L60.65 131.43 L61.35 131.39 L62.05 131.34 L62.74 131.30 L63.44 131.25 L64.14 131.20 L64.83 131.15 L65.53 131.10 L66.22 131.05 L66.92 130.99 L67.62 130.94 L68.31 130.88 L69.01 130.82 L69.70 130.76 L70.40 130.70 L71.10 130.63 L71.79 130.56 L72.49 130.49 L73.19 130.42 L73.88 130.34 L74.58 130.25 L75.27 130.16 L75.97 130.06 L76.67 129.95 L77.36 129.84 L78.06 129.72 L78.76 129.59 L79.45 129.47 L80.15 129.34 L80.84 129.20 L81.54 129.07 L82.24 128.93 L82.93 128.79 L83.63 128.65 L84.32 128.50 L85.02 128.36 L85.72 128.21 L86.41 128.07 L87.11 127.92 L87.81 127.76 L88.50 127.60 L89.20 127.44 L89.89 127.27 L90.59 127.10 L91.29 126.93 L91.98 126.74 L92.68 126.56 L93.38 126.36 L94.07 126.17 L94.77 125.96 L95.46 125.75 L96.16 125.53 L96.86 125.31 L97.55 125.08 L98.25 124.84 L98.94 124.59 L99.64 124.34 L100.34 124.08 L101.03 123.81 L101.73 123.53 L102.43 123.24 L103.12 122.94 L103.82 122.64 L104.51 122.32 L105.21 121.99 L105.91 121.66 L106.60 121.31 L107.30 120.96 L108.00 120.59 L108.69 120.19 L109.39 119.77 L110.08 119.33 L110.78 118.86 L111.48 118.38 L112.17 117.87 L112.87 117.35 L113.56 116.82 L114.26 116.28 L114.96 115.73 L115.65 115.17 L116.35 114.59 L117.05 113.98 L117.74 113.34 L118.44 112.69 L119.13 112.02 L119.83 111.33 L120.53 110.64 L121.22 109.95 L121.92 109.26 L122.62 108.57 L123.31 107.86 L124.01 107.14 L124.70 106.38 L125.40 105.59 L126.10 104.76 L126.79 103.89 L127.49 102.96 L128.18 101.97 L128.88 100.87 L129.58 99.64 L130.27 98.29 L130.97 96.85 L131.67 95.33 L132.36 93.75 L133.06 92.14 L133.75 90.51 L134.45 88.88 L135.15 87.27 L135.84 85.70 L136.54 84.19 L137.24 82.72 L137.93 81.27 L138.63 79.82 L139.32 78.36 L140.02 76.87 L140.72 75.34 L141.41 73.76 L142.11 72.10 L142.81 70.31 L143.50 68.43 L144.20 66.53 L144.89 64.66 L145.59 62.88 L146.29 61.24 L146.98 59.69 L147.68 58.21 L148.37 56.78 L149.07 55.38 L149.77 54.00 L150.46 52.64 L151.16 51.27 L151.86 49.88 L152.55 48.50 L153.25 47.11 L153.94 45.74 L154.64 44.38 L155.34 43.06 L156.03 41.77 L156.73 40.52 L157.43 39.32 L158.12 38.19 L158.82 37.12 L159.51 36.11 L160.21 35.13 L160.91 34.20 L161.60 33.29 L162.30 32.41 L162.99 31.55 L163.69 30.71 L164.39 29.87 L165.08 29.04 L165.78 28.20 L166.48 27.35 L167.17 26.47 L167.87 25.58 L168.56 24.73 L169.26 23.99 L169.96 23.39 L170.65 22.83 L171.35 22.30 L172.05 21.80 L172.74 21.34 L173.44 20.90 L174.13 20.50 L174.83 20.12 L175.53 19.76 L176.22 19.43 L176.92 19.13 L177.61 18.84 L178.31 18.57 L179.01 18.31 L179.70 18.07 L180.40 17.84 L181.10 17.62 L181.79 17.40 L182.49 17.20 L183.18 17.01 L183.88 16.82 L184.58 16.63 L185.27 16.44 L185.97 16.25 L186.67 16.07 L187.36 15.89 L188.06 15.72 L188.75 15.56 L189.45 15.41 L190.15 15.26 L190.84 15.14 L191.54 15.02 L192.23 14.92 L192.93 14.84 L193.63 14.77 L194.32 14.70 L195.02 14.64 L195.72 14.58 L196.41 14.53 L197.11 14.48 L197.80 14.43 L198.50 14.39 L199.20 14.34 L199.89 14.30 L200.59 14.26 L201.29 14.21 L201.98 14.17 L202.68 14.12 L203.37 14.08 L204.07 14.03 L204.77 13.98 L205.46 13.94 L206.16 13.89 L206.85 13.84 L207.55 13.80 L208.25 13.76 L208.94 13.71 L209.64 13.67 L210.34 13.63 L211.03 13.60 L211.73 13.56 L212.42 13.53 L213.12 13.50 L213.82 13.48 L214.51 13.45 L215.21 13.43 L215.91 13.42 L216.60 13.41 L217.30 13.39 L217.99 13.38 L218.69 13.37 L219.39 13.36 L220.08 13.35 L220.78 13.34 L221.47 13.33 L222.17 13.32 L222.87 13.31 L223.56 13.31 L224.26 13.30 L224.96 13.30 L225.65 13.30 L226.35 13.30 L227.04 13.30 L227.74 13.30 L228.44 13.31 L229.13 13.31 L229.83 13.32 L230.53 13.33 L231.22 13.34 L231.92 13.35 L232.61 13.36 L233.31 13.37 L234.01 13.38 L234.70 13.39 L235.40 13.41 L236.09 13.42 L236.79 13.43 L237.49 13.45 L238.18 13.48 L238.88 13.50 L239.58 13.53 L240.27 13.56 L240.97 13.60 L241.66 13.63 L242.36 13.67 L243.06 13.71 L243.75 13.76 L244.45 13.80 L245.15 13.84 L245.84 13.89 L246.54 13.94 L247.23 13.98 L247.93 14.03 L248.63 14.08 L249.32 14.12 L250.02 14.17 L250.71 14.21 L251.41 14.26 L252.11 14.30 L252.80 14.34 L253.50 14.39 L254.20 14.43 L254.89 14.48 L255.59 14.53 L256.28 14.58 L256.98 14.64 L257.68 14.70 L258.37 14.77 L259.07 14.84 L259.77 14.92 L260.46 15.02 L261.16 15.14 L261.85 15.26 L262.55 15.41 L263.25 15.56 L263.94 15.72 L264.64 15.89 L265.33 16.07 L266.03 16.25 L266.73 16.44 L267.42 16.63 L268.12 16.82 L268.82 17.01 L269.51 17.20 L270.21 17.40 L270.90 17.62 L271.60 17.84 L272.30 18.07 L272.99 18.31 L273.69 18.57 L274.39 18.84 L275.08 19.13 L275.78 19.43 L276.47 19.76 L277.17 20.12 L277.87 20.50 L278.56 20.90 L279.26 21.34 L279.95 21.80 L280.65 22.30 L281.35 22.83 L282.04 23.39 L282.74 23.99 L283.44 24.73 L284.13 25.58 L284.83 26.47 L285.52 27.35 L286.22 28.20 L286.92 29.04 L287.61 29.87 L288.31 30.71 L289.01 31.55 L289.70 32.41 L290.40 33.29 L291.09 34.20 L291.79 35.13 L292.49 36.11 L293.18 37.12 L293.88 38.19 L294.57 39.32 L295.27 40.52 L295.97 41.77 L296.66 43.06 L297.36 44.38 L298.06 45.74 L298.75 47.11 L299.45 48.50 L300.14 49.88 L300.84 51.27 L301.54 52.64 L302.23 54.00 L302.93 55.38 L303.63 56.78 L304.32 58.21 L305.02 59.69 L305.71 61.24 L306.41 62.88 L307.11 64.66 L307.80 66.53 L308.50 68.43 L309.19 70.31 L309.89 72.10 L310.59 73.76 L311.28 75.34 L311.98 76.87 L312.68 78.36 L313.37 79.82 L314.07 81.27 L314.76 82.72 L315.46 84.19 L316.16 85.70 L316.85 87.27 L317.55 88.88 L318.25 90.51 L318.94 92.14 L319.64 93.75 L320.33 95.33 L321.03 96.85 L321.73 98.29 L322.42 99.64 L323.12 100.87 L323.82 101.97 L324.51 102.96 L325.21 103.89 L325.90 104.76 L326.60 105.59 L327.30 106.38 L327.99 107.14 L328.69 107.86 L329.38 108.57 L330.08 109.26 L330.78 109.95 L331.47 110.64 L332.17 111.33 L332.87 112.02 L333.56 112.69 L334.26 113.34 L334.95 113.98 L335.65 114.59 L336.35 115.17 L337.04 115.73 L337.74 116.28 L338.44 116.82 L339.13 117.35 L339.83 117.87 L340.52 118.38 L341.22 118.86 L341.92 119.33 L342.61 119.77 L343.31 120.19 L344.00 120.59 L344.70 120.96 L345.40 121.31 L346.09 121.66 L346.79 121.99 L347.49 122.32 L348.18 122.64 L348.88 122.94 L349.57 123.24 L350.27 123.53 L350.97 123.81 L351.66 124.08 L352.36 124.34 L353.06 124.59 L353.75 124.84 L354.45 125.08 L355.14 125.31 L355.84 125.53 L356.54 125.75 L357.23 125.96 L357.93 126.17 L358.62 126.36 L359.32 126.56 L360.02 126.74 L360.71 126.93 L361.41 127.10 L362.11 127.27 L362.80 127.44 L363.50 127.60 L364.19 127.76 L364.89 127.92 L365.59 128.07 L366.28 128.21 L366.98 128.36 L367.68 128.50 L368.37 128.65 L369.07 128.79 L369.76 128.93 L370.46 129.07 L371.16 129.20 L371.85 129.34 L372.55 129.47 L373.24 129.59 L373.94 129.72 L374.64 129.84 L375.33 129.95 L376.03 130.06 L376.73 130.16 L377.42 130.25 L378.12 130.34 L378.81 130.42 L379.51 130.49 L380.21 130.56 L380.90 130.63 L381.60 130.70 L382.30 130.76 L382.99 130.82 L383.69 130.88 L384.38 130.94 L385.08 130.99 L385.78 131.05 L386.47 131.10 L387.17 131.15 L387.86 131.20 L388.56 131.25 L389.26 131.30 L389.95 131.34 L390.65 131.39 L391.35 131.43 L392.04 131.48 L392.74 131.52 L393.43 131.56 L394.13 131.60 L394.83 131.64 L395.52 131.68 L396.22 131.72 L396.92 131.76 L397.61 131.79 L398.31 131.83 L399.00 131.87 L399.70 131.91" fill="none" stroke="#000" stroke-width="1.4"/>
<path d="M49.00 265.54 L49.71 265.48 L50.42 265.43 L51.13 265.37 L51.84 265.31 L52.55 265.25 L53.26 265.18 L53.97 265.12 L54.68 265.05 L55.38 264.98 L56.09 264.91 L56.80 264.84 L57.51 264.76 L58.22 264.69 L58.93 264.61 L59.64 264.53 L60.35 264.45 L61.06 264.37 L61.77 264.29 L62.48 264.20 L63.19 264.12 L63.90 264.03 L64.61 263.94 L65.32 263.85 L66.03 263.76 L66.74 263.66 L67.44 263.57 L68.15 263.47 L68.86 263.37 L69.57 263.26 L70.28 263.16 L70.99 263.05 L71.70 262.94 L72.41 262.83 L73.12 262.71 L73.83 262.59 L74.54 262.47 L75.25 262.35 L75.96 262.23 L76.67 262.10 L77.38 261.97 L78.09 261.84 L78.80 261.70 L79.51 261.56 L80.21 261.42 L80.92 261.28 L81.63 261.14 L82.34 260.99 L83.05 260.84 L83.76 260.68 L84.47 260.52 L85.18 260.36 L85.89 260.18 L86.60 260.00 L87.31 259.81 L88.02 259.61 L88.73 259.41 L89.44 259.19 L90.15 258.97 L90.86 258.75 L91.57 258.51 L92.27 258.26 L92.98 258.00 L93.69 257.72 L94.40 257.44 L95.11 257.14 L95.82 256.84 L96.53 256.52 L97.24 256.21 L97.95 255.88 L98.66 255.55 L99.37 255.22 L100.08 254.89 L100.79 254.56 L101.50 254.22 L102.21 253.89 L102.92 253.56 L103.63 253.23 L104.33 252.88 L105.04 252.53 L105.75 252.18 L106.46 251.82 L107.17 251.46 L107.88 251.10 L108.59 250.75 L109.30 250.40 L110.01 250.05 L110.72 249.70 L111.43 249.38 L112.14 249.06 L112.85 248.76 L113.56 248.47 L114.27 248.18 L114.98 247.90 L115.69 247.61 L116.39 247.31 L117.10 247.00 L117.81 246.68 L118.52 246.34 L119.23 245.98 L119.94 245.60 L120.65 245.19 L121.36 244.74 L122.07 244.23 L122.78 243.64 L123.49 242.98 L124.20 242.27 L124.91 241.53 L125.62 240.77 L126.33 239.99 L127.04 239.22 L127.75 238.47 L128.45 237.74 L129.16 237.00 L129.87 236.26 L130.58 235.51 L131.29 234.75 L132.00 233.99 L132.71 233.23 L133.42 232.46 L134.13 231.69 L134.84 230.93 L135.55 230.15 L136.26 229.38 L136.97 228.60 L137.68 227.83 L138.39 227.05 L139.10 226.26 L139.81 225.48 L140.52 224.69 L141.22 223.91 L141.93 223.12 L142.64 222.33 L143.35 221.53 L144.06 220.74 L144.77 219.94 L145.48 219.14 L146.19 218.34 L146.90 217.54 L147.61 216.74 L148.32 215.93 L149.03 215.12 L149.74 214.31 L150.45 213.50 L151.16 212.68 L151.87 211.87 L152.58 211.05 L153.28 210.23 L153.99 209.41 L154.70 208.58 L155.41 207.75 L156.12 206.93 L156.83 206.09 L157.54 205.26 L158.25 204.43 L158.96 203.59 L159.67 202.75 L160.38 201.91 L161.09 201.07 L161.80 200.22 L162.51 199.38 L163.22 198.52 L163.93 197.67 L164.64 196.81 L165.34 195.94 L166.05 195.07 L166.76 194.20 L167.47 193.31 L168.18 192.41 L168.89 191.51 L169.60 190.60 L170.31 189.68 L171.02 188.78 L171.73 187.88 L172.44 187.00 L173.15 186.14 L173.86 185.30 L174.57 184.47 L175.28 183.67 L175.99 182.87 L176.70 182.08 L177.40 181.29 L178.11 180.50 L178.82 179.71 L179.53 178.90 L180.24 178.09 L180.95 177.25 L181.66 176.39 L182.37 175.52 L183.08 174.64 L183.79 173.76 L184.50 172.88 L185.21 172.02 L185.92 171.18 L186.63 170.35 L187.34 169.56 L188.05 168.79 L188.76 168.04 L189.46 167.29 L190.17 166.56 L190.88 165.84 L191.59 165.13 L192.30 164.43 L193.01 163.74 L193.72 163.05 L194.43 162.36 L195.14 161.68 L195.85 161.00 L196.56 160.31 L197.27 159.63 L197.98 158.96 L198.69 158.30 L199.40 157.65 L200.11 157.02 L200.82 156.40 L201.53 155.81 L202.23 155.25 L202.94 154.70 L203.65 154.16 L204.36 153.64 L205.07 153.14 L205.78 152.66 L206.49 152.22 L207.20 151.82 L207.91 151.46 L208.62 151.14 L209.33 150.84 L210.04 150.55 L210.75 150.26 L211.46 149.97 L212.17 149.65 L212.88 149.28 L213.59 148.92 L214.29 148.57 L215.00 148.28 L215.71 148.08 L216.42 147.97 L217.13 147.88 L217.84 147.80 L218.55 147.72 L219.26 147.64 L219.97 147.58 L220.68 147.52 L221.39 147.46 L222.10 147.42 L222.81 147.38 L223.52 147.35 L224.23 147.33 L224.94 147.31 L225.65 147.30 L226.00 147.35" fill="none" stroke="rgb(188,143,143)" stroke-width="1.7" stroke-dasharray="1.5 4.5 10.5 4.5" stroke-dashoffset="14.45"/>
<path d="M226.00 147.35 L226.59 147.35 L227.18 147.35 L227.78 147.36 L228.37 147.36 L228.96 147.37 L229.55 147.38 L230.14 147.39 L230.74 147.40 L231.33 147.41 L231.92 147.43 L232.51 147.47 L233.10 147.52 L233.70 147.58 L234.29 147.66 L234.88 147.74 L235.47 147.83 L236.06 147.93 L236.66 148.10 L237.25 148.34 L237.84 148.65 L238.43 149.00 L239.02 149.38 L239.62 149.77 L240.21 150.16 L240.80 150.54 L241.39 150.91 L241.98 151.30 L242.58 151.71 L243.17 152.12 L243.76 152.54 L244.35 152.96 L244.94 153.36 L245.54 153.75 L246.13 154.13 L246.72 154.51 L247.31 154.91 L247.90 155.32 L248.49 155.76 L249.09 156.24 L249.68 156.77 L250.27 157.35 L250.86 157.95 L251.45 158.57 L252.05 159.20 L252.64 159.83 L253.23 160.45 L253.82 161.08 L254.41 161.72 L255.01 162.36 L255.60 163.01 L256.19 163.67 L256.78 164.33 L257.37 164.99 L257.97 165.66 L258.56 166.32 L259.15 166.99 L259.74 167.65 L260.33 168.30 L260.93 168.96 L261.52 169.62 L262.11 170.28 L262.70 170.97 L263.29 171.67 L263.89 172.40 L264.48 173.15 L265.07 173.91 L265.66 174.69 L266.25 175.48 L266.85 176.27 L267.44 177.06 L268.03 177.86 L268.62 178.65 L269.21 179.43 L269.81 180.21 L270.40 180.98 L270.99 181.75 L271.58 182.52 L272.17 183.29 L272.77 184.05 L273.36 184.82 L273.95 185.58 L274.54 186.34 L275.13 187.10 L275.73 187.85 L276.32 188.60 L276.91 189.34 L277.50 190.06 L278.09 190.79 L278.69 191.50 L279.28 192.22 L279.87 192.94 L280.46 193.67 L281.05 194.40 L281.65 195.14 L282.24 195.90 L282.83 196.67 L283.42 197.46 L284.01 198.27 L284.61 199.09 L285.20 199.92 L285.79 200.76 L286.38 201.60 L286.97 202.44 L287.57 203.28 L288.16 204.11 L288.75 204.93 L289.34 205.75 L289.93 206.56 L290.53 207.38 L291.12 208.20 L291.71 209.02 L292.30 209.83 L292.89 210.63 L293.48 211.43 L294.08 212.21 L294.67 212.99 L295.26 213.75 L295.85 214.50 L296.44 215.23 L297.04 215.95 L297.63 216.67 L298.22 217.37 L298.81 218.07 L299.40 218.77 L300.00 219.46 L300.59 220.16 L301.18 220.85 L301.77 221.55 L302.36 222.25 L302.96 222.95 L303.55 223.65 L304.14 224.35 L304.73 225.05 L305.32 225.75 L305.92 226.44 L306.51 227.13 L307.10 227.82 L307.69 228.50 L308.28 229.17 L308.88 229.84 L309.47 230.51 L310.06 231.19 L310.65 231.86 L311.24 232.53 L311.84 233.20 L312.43 233.86 L313.02 234.51 L313.61 235.16 L314.20 235.79 L314.80 236.40 L315.39 237.00 L315.98 237.58 L316.57 238.14 L317.16 238.70 L317.76 239.24 L318.35 239.78 L318.94 240.30 L319.53 240.82 L320.12 241.33 L320.72 241.83 L321.31 242.32 L321.90 242.80 L322.49 243.28 L323.08 243.74 L323.68 244.20 L324.27 244.66 L324.86 245.11 L325.45 245.56 L326.04 246.01 L326.64 246.45 L327.23 246.88 L327.82 247.31 L328.41 247.73 L329.00 248.14 L329.60 248.54 L330.19 248.93 L330.78 249.31 L331.37 249.68 L331.96 250.03 L332.56 250.37 L333.15 250.70 L333.74 251.02 L334.33 251.33 L334.92 251.63 L335.52 251.92 L336.11 252.21 L336.70 252.49 L337.29 252.76 L337.88 253.03 L338.47 253.30 L339.07 253.56 L339.66 253.82 L340.25 254.08 L340.84 254.34 L341.43 254.60 L342.03 254.86 L342.62 255.12 L343.21 255.39 L343.80 255.65 L344.39 255.92 L344.99 256.19 L345.58 256.46 L346.17 256.72 L346.76 256.98 L347.35 257.23 L347.95 257.48 L348.54 257.72 L349.13 257.95 L349.72 258.17 L350.31 258.38 L350.91 258.58 L351.50 258.77 L352.09 258.95 L352.68 259.12 L353.27 259.29 L353.87 259.45 L354.46 259.61 L355.05 259.77 L355.64 259.93 L356.23 260.08 L356.83 260.23 L357.42 260.38 L358.01 260.53 L358.60 260.67 L359.19 260.81 L359.79 260.94 L360.38 261.08 L360.97 261.21 L361.56 261.33 L362.15 261.46 L362.75 261.58 L363.34 261.70 L363.93 261.82 L364.52 261.94 L365.11 262.05 L365.71 262.16 L366.30 262.27 L366.89 262.37 L367.48 262.48 L368.07 262.58 L368.67 262.68 L369.26 262.78 L369.85 262.88 L370.44 262.97 L371.03 263.06 L371.63 263.15 L372.22 263.24 L372.81 263.33 L373.40 263.41 L373.99 263.49 L374.59 263.58 L375.18 263.66 L375.77 263.73 L376.36 263.81 L376.95 263.89 L377.55 263.96 L378.14 264.03 L378.73 264.10 L379.32 264.17 L379.91 264.24 L380.51 264.31 L381.10 264.38 L381.69 264.44 L382.28 264.51 L382.87 264.57 L383.46 264.64 L384.06 264.70 L384.65 264.76 L385.24 264.83 L385.83 264.89 L386.42 264.95 L387.02 265.01 L387.61 265.07 L388.20 265.13 L388.79 265.18 L389.38 265.24 L389.98 265.30 L390.57 265.36 L391.16 265.41 L391.75 265.47 L392.34 265.52 L392.94 265.58 L393.53 265.63 L394.12 265.68 L394.71 265.74 L395.30 265.79 L395.90 265.84 L396.49 265.89 L397.08 265.94 L397.67 265.99 L398.26 266.03 L398.86 266.08 L399.45 266.13 L400.04 266.17 L400.63 266.22 L401.22 266.26 L401.82 266.30 L402.41 266.35 L403.00 266.39" fill="none" stroke="rgb(188,143,143)" stroke-width="1.7" stroke-dasharray="1.5 4.5 10.5 4.5" stroke-dashoffset="17.2"/>
<path d="M49.00 266.18 L49.71 266.14 L50.42 266.11 L51.13 266.07 L51.84 266.03 L52.55 265.99 L53.26 265.95 L53.97 265.92 L54.68 265.88 L55.38 265.84 L56.09 265.80 L56.80 265.76 L57.51 265.72 L58.22 265.68 L58.93 265.63 L59.64 265.59 L60.35 265.55 L61.06 265.50 L61.77 265.46 L62.48 265.41 L63.19 265.36 L63.90 265.32 L64.61 265.26 L65.32 265.21 L66.03 265.16 L66.74 265.10 L67.44 265.05 L68.15 264.99 L68.86 264.93 L69.57 264.87 L70.28 264.80 L70.99 264.74 L71.70 264.67 L72.41 264.60 L73.12 264.52 L73.83 264.44 L74.54 264.35 L75.25 264.26 L75.96 264.15 L76.67 264.04 L77.38 263.93 L78.09 263.81 L78.80 263.68 L79.51 263.55 L80.21 263.42 L80.92 263.28 L81.63 263.14 L82.34 263.00 L83.05 262.86 L83.76 262.71 L84.47 262.57 L85.18 262.42 L85.89 262.27 L86.60 262.12 L87.31 261.97 L88.02 261.81 L88.73 261.65 L89.44 261.48 L90.15 261.31 L90.86 261.13 L91.57 260.95 L92.27 260.76 L92.98 260.57 L93.69 260.37 L94.40 260.16 L95.11 259.95 L95.82 259.73 L96.53 259.51 L97.24 259.28 L97.95 259.04 L98.66 258.79 L99.37 258.53 L100.08 258.27 L100.79 257.99 L101.50 257.71 L102.21 257.42 L102.92 257.12 L103.63 256.81 L104.33 256.49 L105.04 256.16 L105.75 255.82 L106.46 255.47 L107.17 255.11 L107.88 254.74 L108.59 254.34 L109.30 253.91 L110.01 253.46 L110.72 252.99 L111.43 252.50 L112.14 251.98 L112.85 251.46 L113.56 250.91 L114.27 250.36 L114.98 249.80 L115.69 249.23 L116.39 248.63 L117.10 248.01 L117.81 247.36 L118.52 246.69 L119.23 246.00 L119.94 245.30 L120.65 244.59 L121.36 243.90 L122.07 243.19 L122.78 242.48 L123.49 241.76 L124.20 241.01 L124.91 240.23 L125.62 239.41 L126.33 238.55 L127.04 237.64 L127.75 236.67 L128.45 235.63 L129.16 234.45 L129.87 233.15 L130.58 231.73 L131.29 230.22 L132.00 228.64 L132.71 227.01 L133.42 225.36 L134.13 223.69 L134.84 222.04 L135.55 220.42 L136.26 218.85 L136.97 217.34 L137.68 215.85 L138.39 214.38 L139.10 212.89 L139.81 211.39 L140.52 209.84 L141.22 208.25 L141.93 206.58 L142.64 204.79 L143.35 202.88 L144.06 200.94 L144.77 199.02 L145.48 197.19 L146.19 195.50 L146.90 193.91 L147.61 192.39 L148.32 190.93 L149.03 189.50 L149.74 188.09 L150.45 186.70 L151.16 185.30 L151.87 183.89 L152.58 182.48 L153.28 181.07 L153.99 179.67 L154.70 178.29 L155.41 176.94 L156.12 175.63 L156.83 174.36 L157.54 173.15 L158.25 172.01 L158.96 170.93 L159.67 169.90 L160.38 168.92 L161.09 167.97 L161.80 167.06 L162.51 166.17 L163.22 165.30 L163.93 164.44 L164.64 163.59 L165.34 162.73 L166.05 161.88 L166.76 161.01 L167.47 160.09 L168.18 159.19 L168.89 158.37 L169.60 157.70 L170.31 157.11 L171.02 156.55 L171.73 156.03 L172.44 155.54 L173.15 155.09 L173.86 154.66 L174.57 154.26 L175.28 153.89 L175.99 153.55 L176.70 153.23 L177.40 152.93 L178.11 152.65 L178.82 152.38 L179.53 152.13 L180.24 151.89 L180.95 151.66 L181.66 151.45 L182.37 151.24 L183.08 151.04 L183.79 150.84 L184.50 150.65 L185.21 150.46 L185.92 150.27 L186.63 150.08 L187.34 149.90 L188.05 149.73 L188.76 149.56 L189.46 149.40 L190.17 149.26 L190.88 149.13 L191.59 149.01 L192.30 148.92 L193.01 148.83 L193.72 148.76 L194.43 148.69 L195.14 148.63 L195.85 148.57 L196.56 148.52 L197.27 148.47 L197.98 148.42 L198.69 148.38 L199.40 148.33 L200.11 148.29 L200.82 148.24 L201.53 148.20 L202.23 148.15 L202.94 148.11 L203.65 148.06 L204.36 148.01 L205.07 147.96 L205.78 147.92 L206.49 147.87 L207.20 147.82 L207.91 147.78 L208.62 147.73 L209.33 147.69 L210.04 147.65 L210.75 147.61 L211.46 147.58 L212.17 147.54 L212.88 147.51 L213.59 147.48 L214.29 147.46 L215.00 147.44 L215.71 147.42 L216.42 147.41 L217.13 147.40 L217.84 147.38 L218.55 147.37 L219.26 147.36 L219.97 147.35 L220.68 147.34 L221.39 147.33 L222.10 147.32 L222.81 147.32 L223.52 147.31 L224.23 147.30 L224.94 147.30 L225.65 147.30 L226.35 147.30 L227.06 147.30 L227.77 147.30 L228.48 147.31 L229.19 147.32 L229.90 147.32 L230.61 147.33 L231.32 147.34 L232.03 147.35 L232.74 147.36 L233.45 147.37 L234.16 147.38 L234.87 147.40 L235.58 147.41 L236.29 147.42 L237.00 147.44 L237.71 147.46 L238.41 147.48 L239.12 147.51 L239.83 147.54 L240.54 147.58 L241.25 147.61 L241.96 147.65 L242.67 147.69 L243.38 147.73 L244.09 147.78 L244.80 147.82 L245.51 147.87 L246.22 147.92 L246.93 147.96 L247.64 148.01 L248.35 148.06 L249.06 148.11 L249.77 148.15 L250.47 148.20 L251.18 148.24 L251.89 148.29 L252.60 148.33 L253.31 148.38 L254.02 148.42 L254.73 148.47 L255.44 148.52 L256.15 148.57 L256.86 148.63 L257.57 148.69 L258.28 148.76 L258.99 148.83 L259.70 148.92 L260.41 149.01 L261.12 149.13 L261.83 149.26 L262.54 149.40 L263.24 149.56 L263.95 149.73 L264.66 149.90 L265.37 150.08 L266.08 150.27 L266.79 150.46 L267.50 150.65 L268.21 150.84 L268.92 151.04 L269.63 151.24 L270.34 151.45 L271.05 151.66 L271.76 151.89 L272.47 152.13 L273.18 152.38 L273.89 152.65 L274.60 152.93 L275.30 153.23 L276.01 153.55 L276.72 153.89 L277.43 154.26 L278.14 154.66 L278.85 155.09 L279.56 155.54 L280.27 156.03 L280.98 156.55 L281.69 157.11 L282.40 157.70 L283.11 158.37 L283.82 159.19 L284.53 160.09 L285.24 161.01 L285.95 161.88 L286.66 162.73 L287.36 163.59 L288.07 164.44 L288.78 165.30 L289.49 166.17 L290.20 167.06 L290.91 167.97 L291.62 168.92 L292.33 169.90 L293.04 170.93 L293.75 172.01 L294.46 173.15 L295.17 174.36 L295.88 175.63 L296.59 176.94 L297.30 178.29 L298.01 179.67 L298.72 181.07 L299.42 182.48 L300.13 183.89 L300.84 185.30 L301.55 186.70 L302.26 188.09 L302.97 189.50 L303.68 190.93 L304.39 192.39 L305.10 193.91 L305.81 195.50 L306.52 197.19 L307.23 199.02 L307.94 200.94 L308.65 202.88 L309.36 204.79 L310.07 206.58 L310.78 208.25 L311.48 209.84 L312.19 211.39 L312.90 212.89 L313.61 214.38 L314.32 215.85 L315.03 217.34 L315.74 218.85 L316.45 220.42 L317.16 222.04 L317.87 223.69 L318.58 225.36 L319.29 227.01 L320.00 228.64 L320.71 230.22 L321.42 231.73 L322.13 233.15 L322.84 234.45 L323.55 235.63 L324.25 236.67 L324.96 237.64 L325.67 238.55 L326.38 239.41 L327.09 240.23 L327.80 241.01 L328.51 241.76 L329.22 242.48 L329.93 243.19 L330.64 243.90 L331.35 244.59 L332.06 245.30 L332.77 246.00 L333.48 246.69 L334.19 247.36 L334.90 248.01 L335.61 248.63 L336.31 249.23 L337.02 249.80 L337.73 250.36 L338.44 250.91 L339.15 251.46 L339.86 251.98 L340.57 252.50 L341.28 252.99 L341.99 253.46 L342.70 253.91 L343.41 254.34 L344.12 254.74 L344.83 255.11 L345.54 255.47 L346.25 255.82 L346.96 256.16 L347.67 256.49 L348.37 256.81 L349.08 257.12 L349.79 257.42 L350.50 257.71 L351.21 257.99 L351.92 258.27 L352.63 258.53 L353.34 258.79 L354.05 259.04 L354.76 259.28 L355.47 259.51 L356.18 259.73 L356.89 259.95 L357.60 260.16 L358.31 260.37 L359.02 260.57 L359.73 260.76 L360.43 260.95 L361.14 261.13 L361.85 261.31 L362.56 261.48 L363.27 261.65 L363.98 261.81 L364.69 261.97 L365.40 262.12 L366.11 262.27 L366.82 262.42 L367.53 262.57 L368.24 262.71 L368.95 262.86 L369.66 263.00 L370.37 263.14 L371.08 263.28 L371.79 263.42 L372.49 263.55 L373.20 263.68 L373.91 263.81 L374.62 263.93 L375.33 264.04 L376.04 264.15 L376.75 264.26 L377.46 264.35 L378.17 264.44 L378.88 264.52 L379.59 264.60 L380.30 264.67 L381.01 264.74 L381.72 264.80 L382.43 264.87 L383.14 264.93 L383.85 264.99 L384.56 265.05 L385.26 265.10 L385.97 265.16 L386.68 265.21 L387.39 265.26 L388.10 265.32 L388.81 265.36 L389.52 265.41 L390.23 265.46 L390.94 265.50 L391.65 265.55 L392.36 265.59 L393.07 265.63 L393.78 265.68 L394.49 265.72 L395.20 265.76 L395.91 265.80 L396.62 265.84 L397.32 265.88 L398.03 265.92 L398.74 265.95 L399.45 265.99 L400.16 266.03 L400.87 266.07 L401.58 266.11 L402.29 266.14 L403.00 266.18" fill="none" stroke="#000" stroke-width="1.5"/>
<path d="M49.00 265.51 L49.71 265.46 L50.42 265.41 L51.13 265.37 L51.84 265.32 L52.55 265.27 L53.26 265.23 L53.97 265.18 L54.68 265.13 L55.38 265.09 L56.09 265.04 L56.80 264.99 L57.51 264.94 L58.22 264.90 L58.93 264.85 L59.64 264.80 L60.35 264.75 L61.06 264.70 L61.77 264.65 L62.48 264.59 L63.19 264.54 L63.90 264.48 L64.61 264.43 L65.32 264.37 L66.03 264.31 L66.74 264.25 L67.44 264.19 L68.15 264.13 L68.86 264.06 L69.57 264.00 L70.28 263.93 L70.99 263.86 L71.70 263.78 L72.41 263.71 L73.12 263.63 L73.83 263.55 L74.54 263.45 L75.25 263.35 L75.96 263.25 L76.67 263.13 L77.38 263.01 L78.09 262.89 L78.80 262.76 L79.51 262.63 L80.21 262.49 L80.92 262.35 L81.63 262.21 L82.34 262.07 L83.05 261.92 L83.76 261.77 L84.47 261.63 L85.18 261.48 L85.89 261.33 L86.60 261.18 L87.31 261.02 L88.02 260.86 L88.73 260.69 L89.44 260.53 L90.15 260.35 L90.86 260.17 L91.57 259.99 L92.27 259.80 L92.98 259.61 L93.69 259.41 L94.40 259.20 L95.11 258.99 L95.82 258.77 L96.53 258.54 L97.24 258.31 L97.95 258.07 L98.66 257.82 L99.37 257.56 L100.08 257.30 L100.79 257.03 L101.50 256.74 L102.21 256.45 L102.92 256.15 L103.63 255.84 L104.33 255.52 L105.04 255.19 L105.75 254.85 L106.46 254.50 L107.17 254.14 L107.88 253.77 L108.59 253.37 L109.30 252.94 L110.01 252.49 L110.72 252.02 L111.43 251.53 L112.14 251.02 L112.85 250.49 L113.56 249.95 L114.27 249.40 L114.98 248.84 L115.69 248.28 L116.39 247.68 L117.10 247.06 L117.81 246.42 L118.52 245.75 L119.23 245.07 L119.94 244.37 L120.65 243.68 L121.36 242.98 L122.07 242.29 L122.78 241.59 L123.49 240.87 L124.20 240.13 L124.91 239.36 L125.62 238.55 L126.33 237.70 L127.04 236.79 L127.75 235.83 L128.45 234.80 L129.16 233.63 L129.87 232.33 L130.58 230.92 L131.29 229.42 L132.00 227.85 L132.71 226.23 L133.42 224.59 L134.13 222.93 L134.84 221.29 L135.55 219.68 L136.26 218.12 L136.97 216.61 L137.68 215.14 L138.39 213.67 L139.10 212.20 L139.81 210.70 L140.52 209.17 L141.22 207.59 L141.93 205.94 L142.64 204.16 L143.35 202.28 L144.06 200.35 L144.77 198.45 L145.48 196.63 L146.19 194.96 L146.90 193.39 L147.61 191.89 L148.32 190.44 L149.03 189.03 L149.74 187.65 L150.45 186.28 L151.16 184.90 L151.87 183.51 L152.58 182.11 L153.28 180.72 L153.99 179.34 L154.70 177.98 L155.41 176.65 L156.12 175.36 L156.83 174.11 L157.54 172.92 L158.25 171.79 L158.96 170.74 L159.67 169.73 L160.38 168.76 L161.09 167.83 L161.80 166.93 L162.51 166.06 L163.22 165.20 L163.93 164.35 L164.64 163.51 L165.34 162.67 L166.05 161.83 L166.76 160.97 L167.47 160.06 L168.18 159.17 L168.89 158.36 L169.60 157.69 L170.31 157.10 L171.02 156.55 L171.73 156.03 L172.44 155.54 L173.15 155.09 L173.86 154.66 L174.57 154.26 L175.28 153.89 L175.99 153.55 L176.70 153.23 L177.40 152.93 L178.11 152.65 L178.82 152.38 L179.53 152.13 L180.24 151.89 L180.95 151.66 L181.66 151.45 L182.37 151.24 L183.08 151.04 L183.79 150.84 L184.50 150.65 L185.21 150.46 L185.92 150.27 L186.63 150.08 L187.34 149.90 L188.05 149.73 L188.76 149.56 L189.46 149.40 L190.17 149.26 L190.88 149.13 L191.59 149.01 L192.30 148.92 L193.01 148.83 L193.72 148.76 L194.43 148.69 L195.14 148.63 L195.85 148.57 L196.56 148.52 L197.27 148.47 L197.98 148.42 L198.69 148.38 L199.40 148.33 L200.11 148.29 L200.82 148.24 L201.53 148.20 L202.23 148.15 L202.94 148.11 L203.65 148.06 L204.36 148.01 L205.07 147.96 L205.78 147.92 L206.49 147.87 L207.20 147.82 L207.91 147.78 L208.62 147.73 L209.33 147.69 L210.04 147.65 L210.75 147.61 L211.46 147.58 L212.17 147.54 L212.88 147.51 L213.59 147.48 L214.29 147.46 L215.00 147.44 L215.71 147.42 L216.42 147.41 L217.13 147.40 L217.84 147.38 L218.55 147.37 L219.26 147.36 L219.97 147.35 L220.68 147.34 L221.39 147.33 L222.10 147.32 L222.81 147.32 L223.52 147.31 L224.23 147.30 L224.94 147.30 L225.65 147.30 L226.35 147.30 L227.06 147.30 L227.77 147.30 L228.48 147.31 L229.19 147.32 L229.90 147.32 L230.61 147.33 L231.32 147.34 L232.03 147.35 L232.74 147.36 L233.45 147.37 L234.16 147.38 L234.87 147.40 L235.58 147.41 L236.29 147.42 L237.00 147.44 L237.71 147.46 L238.41 147.48 L239.12 147.51 L239.83 147.54 L240.54 147.58 L241.25 147.61 L241.96 147.65 L242.67 147.69 L243.38 147.73 L244.09 147.78 L244.80 147.82 L245.51 147.87 L246.22 147.92 L246.93 147.96 L247.64 148.01 L248.35 148.06 L249.06 148.11 L249.77 148.15 L250.47 148.20 L251.18 148.24 L251.89 148.29 L252.60 148.33 L253.31 148.38 L254.02 148.42 L254.73 148.47 L255.44 148.52 L256.15 148.57 L256.86 148.63 L257.57 148.69 L258.28 148.76 L258.99 148.83 L259.70 148.92 L260.41 149.01 L261.12 149.13 L261.83 149.26 L262.54 149.40 L263.24 149.56 L263.95 149.73 L264.66 149.90 L265.37 150.08 L266.08 150.27 L266.79 150.46 L267.50 150.65 L268.21 150.84 L268.92 151.04 L269.63 151.24 L270.34 151.45 L271.05 151.66 L271.76 151.89 L272.47 152.13 L273.18 152.38 L273.89 152.65 L274.60 152.93 L275.30 153.23 L276.01 153.55 L276.72 153.89 L277.43 154.26 L278.14 154.66 L278.85 155.09 L279.56 155.54 L280.27 156.03 L280.98 156.55 L281.69 157.10 L282.40 157.69 L283.11 158.36 L283.82 159.17 L284.53 160.06 L285.24 160.97 L285.95 161.83 L286.66 162.67 L287.36 163.51 L288.07 164.35 L288.78 165.20 L289.49 166.06 L290.20 166.93 L290.91 167.83 L291.62 168.76 L292.33 169.73 L293.04 170.74 L293.75 171.79 L294.46 172.92 L295.17 174.11 L295.88 175.36 L296.59 176.65 L297.30 177.98 L298.01 179.34 L298.72 180.72 L299.42 182.11 L300.13 183.51 L300.84 184.90 L301.55 186.28 L302.26 187.65 L302.97 189.03 L303.68 190.44 L304.39 191.89 L305.10 193.39 L305.81 194.96 L306.52 196.63 L307.23 198.45 L307.94 200.35 L308.65 202.28 L309.36 204.16 L310.07 205.94 L310.78 207.59 L311.48 209.17 L312.19 210.70 L312.90 212.20 L313.61 213.67 L314.32 215.14 L315.03 216.61 L315.74 218.12 L316.45 219.68 L317.16 221.29 L317.87 222.93 L318.58 224.59 L319.29 226.23 L320.00 227.85 L320.71 229.42 L321.42 230.92 L322.13 232.33 L322.84 233.63 L323.55 234.80 L324.25 235.83 L324.96 236.79 L325.67 237.70 L326.38 238.55 L327.09 239.36 L327.80 240.13 L328.51 240.87 L329.22 241.59 L329.93 242.29 L330.64 242.98 L331.35 243.68 L332.06 244.37 L332.77 245.07 L333.48 245.75 L334.19 246.42 L334.90 247.06 L335.61 247.68 L336.31 248.28 L337.02 248.84 L337.73 249.40 L338.44 249.95 L339.15 250.49 L339.86 251.02 L340.57 251.53 L341.28 252.02 L341.99 252.49 L342.70 252.94 L343.41 253.37 L344.12 253.77 L344.83 254.14 L345.54 254.50 L346.25 254.85 L346.96 255.19 L347.67 255.52 L348.37 255.84 L349.08 256.15 L349.79 256.45 L350.50 256.74 L351.21 257.03 L351.92 257.30 L352.63 257.56 L353.34 257.82 L354.05 258.07 L354.76 258.31 L355.47 258.54 L356.18 258.77 L356.89 258.99 L357.60 259.20 L358.31 259.41 L359.02 259.61 L359.73 259.80 L360.43 259.99 L361.14 260.17 L361.85 260.35 L362.56 260.53 L363.27 260.69 L363.98 260.86 L364.69 261.02 L365.40 261.18 L366.11 261.33 L366.82 261.48 L367.53 261.63 L368.24 261.77 L368.95 261.92 L369.66 262.07 L370.37 262.21 L371.08 262.35 L371.79 262.49 L372.49 262.63 L373.20 262.76 L373.91 262.89 L374.62 263.01 L375.33 263.13 L376.04 263.25 L376.75 263.35 L377.46 263.45 L378.17 263.55 L378.88 263.63 L379.59 263.71 L380.30 263.78 L381.01 263.86 L381.72 263.93 L382.43 264.00 L383.14 264.06 L383.85 264.13 L384.56 264.19 L385.26 264.25 L385.97 264.31 L386.68 264.37 L387.39 264.43 L388.10 264.48 L388.81 264.54 L389.52 264.59 L390.23 264.65 L390.94 264.70 L391.65 264.75 L392.36 264.80 L393.07 264.85 L393.78 264.90 L394.49 264.94 L395.20 264.99 L395.91 265.04 L396.62 265.09 L397.32 265.13 L398.03 265.18 L398.74 265.23 L399.45 265.27 L400.16 265.32 L400.87 265.37 L401.58 265.41 L402.29 265.46 L403.00 265.51" fill="none" stroke="rgb(255,0,0)" stroke-width="1.3" stroke-dasharray="7.1 2.9"/>
<path d="M49.00 265.60 L49.71 265.55 L50.42 265.51 L51.13 265.47 L51.84 265.42 L52.55 265.38 L53.26 265.34 L53.97 265.30 L54.68 265.25 L55.38 265.21 L56.09 265.17 L56.80 265.12 L57.51 265.08 L58.22 265.03 L58.93 264.99 L59.64 264.94 L60.35 264.90 L61.06 264.85 L61.77 264.80 L62.48 264.75 L63.19 264.70 L63.90 264.65 L64.61 264.59 L65.32 264.54 L66.03 264.48 L66.74 264.43 L67.44 264.37 L68.15 264.31 L68.86 264.24 L69.57 264.18 L70.28 264.11 L70.99 264.05 L71.70 263.98 L72.41 263.90 L73.12 263.83 L73.83 263.74 L74.54 263.65 L75.25 263.55 L75.96 263.45 L76.67 263.34 L77.38 263.22 L78.09 263.10 L78.80 262.97 L79.51 262.84 L80.21 262.71 L80.92 262.57 L81.63 262.43 L82.34 262.29 L83.05 262.14 L83.76 262.00 L84.47 261.85 L85.18 261.70 L85.89 261.55 L86.60 261.40 L87.31 261.25 L88.02 261.09 L88.73 260.92 L89.44 260.76 L90.15 260.58 L90.86 260.40 L91.57 260.22 L92.27 260.03 L92.98 259.84 L93.69 259.64 L94.40 259.44 L95.11 259.22 L95.82 259.01 L96.53 258.78 L97.24 258.55 L97.95 258.31 L98.66 258.06 L99.37 257.80 L100.08 257.54 L100.79 257.27 L101.50 256.98 L102.21 256.69 L102.92 256.39 L103.63 256.08 L104.33 255.76 L105.04 255.43 L105.75 255.10 L106.46 254.74 L107.17 254.38 L107.88 254.01 L108.59 253.61 L109.30 253.19 L110.01 252.74 L110.72 252.26 L111.43 251.77 L112.14 251.26 L112.85 250.73 L113.56 250.19 L114.27 249.64 L114.98 249.09 L115.69 248.52 L116.39 247.93 L117.10 247.31 L117.81 246.66 L118.52 246.00 L119.23 245.32 L119.94 244.62 L120.65 243.92 L121.36 243.23 L122.07 242.54 L122.78 241.83 L123.49 241.12 L124.20 240.37 L124.91 239.60 L125.62 238.80 L126.33 237.94 L127.04 237.04 L127.75 236.08 L128.45 235.04 L129.16 233.88 L129.87 232.58 L130.58 231.17 L131.29 229.67 L132.00 228.10 L132.71 226.48 L133.42 224.83 L134.13 223.18 L134.84 221.53 L135.55 219.92 L136.26 218.36 L136.97 216.86 L137.68 215.38 L138.39 213.91 L139.10 212.43 L139.81 210.93 L140.52 209.40 L141.22 207.81 L141.93 206.15 L142.64 204.36 L143.35 202.47 L144.06 200.53 L144.77 198.62 L145.48 196.79 L146.19 195.11 L146.90 193.53 L147.61 192.02 L148.32 190.56 L149.03 189.14 L149.74 187.75 L150.45 186.36 L151.16 184.97 L151.87 183.57 L152.58 182.17 L153.28 180.76 L153.99 179.37 L154.70 178.00 L155.41 176.66 L156.12 175.36 L156.83 174.11 L157.54 172.91 L158.25 171.78 L158.96 170.71 L159.67 169.70 L160.38 168.73 L161.09 167.79 L161.80 166.89 L162.51 166.02 L163.22 165.16 L163.93 164.31 L164.64 163.48 L165.34 162.64 L166.05 161.80 L166.76 160.95 L167.47 160.06 L168.18 159.17 L168.89 158.37 L169.60 157.73 L170.31 157.17 L171.02 156.65 L171.73 156.18 L172.44 155.75 L173.15 155.35 L173.86 154.99 L174.57 154.65 L175.28 154.35 L175.99 154.08 L176.70 153.83 L177.40 153.59 L178.11 153.38 L178.82 153.17 L179.53 152.98 L180.24 152.79 L180.95 152.61 L181.66 152.43 L182.37 152.27 L183.08 152.10 L183.79 151.95 L184.50 151.80 L185.21 151.65 L185.92 151.50 L186.63 151.35 L187.34 151.20 L188.05 151.06 L188.76 150.92 L189.46 150.79 L190.17 150.67 L190.88 150.56 L191.59 150.46 L192.30 150.37 L193.01 150.29 L193.72 150.21 L194.43 150.14 L195.14 150.06 L195.85 149.99 L196.56 149.91 L197.27 149.84 L197.98 149.76 L198.69 149.69 L199.40 149.61 L200.11 149.54 L200.82 149.47 L201.53 149.39 L202.23 149.31 L202.94 149.23 L203.65 149.14 L204.36 149.06 L205.07 148.96 L205.78 148.87 L206.49 148.78 L207.20 148.68 L207.91 148.59 L208.62 148.49 L209.33 148.40 L210.04 148.29 L210.75 148.18 L211.46 148.06 L212.17 147.94 L212.88 147.82 L213.59 147.71 L214.29 147.62 L215.00 147.53 L215.71 147.47 L216.42 147.42 L217.13 147.40 L217.84 147.38 L218.55 147.37 L219.26 147.36 L219.97 147.35 L220.68 147.34 L221.39 147.33 L222.10 147.32 L222.81 147.32 L223.52 147.31 L224.23 147.30 L224.94 147.30 L225.65 147.30 L226.35 147.30 L227.06 147.30 L227.77 147.30 L228.48 147.31 L229.19 147.32 L229.90 147.32 L230.61 147.33 L231.32 147.34 L232.03 147.35 L232.74 147.36 L233.45 147.37 L234.16 147.38 L234.87 147.40 L235.58 147.42 L236.29 147.47 L237.00 147.53 L237.71 147.62 L238.41 147.71 L239.12 147.82 L239.83 147.94 L240.54 148.06 L241.25 148.18 L241.96 148.29 L242.67 148.40 L243.38 148.49 L244.09 148.59 L244.80 148.68 L245.51 148.78 L246.22 148.87 L246.93 148.96 L247.64 149.06 L248.35 149.14 L249.06 149.23 L249.77 149.31 L250.47 149.39 L251.18 149.47 L251.89 149.54 L252.60 149.61 L253.31 149.69 L254.02 149.76 L254.73 149.84 L255.44 149.91 L256.15 149.99 L256.86 150.06 L257.57 150.14 L258.28 150.21 L258.99 150.29 L259.70 150.37 L260.41 150.46 L261.12 150.56 L261.83 150.67 L262.54 150.79 L263.24 150.92 L263.95 151.06 L264.66 151.20 L265.37 151.35 L266.08 151.50 L266.79 151.65 L267.50 151.80 L268.21 151.95 L268.92 152.10 L269.63 152.27 L270.34 152.43 L271.05 152.61 L271.76 152.79 L272.47 152.98 L273.18 153.17 L273.89 153.38 L274.60 153.59 L275.30 153.83 L276.01 154.08 L276.72 154.35 L277.43 154.65 L278.14 154.99 L278.85 155.35 L279.56 155.75 L280.27 156.18 L280.98 156.65 L281.69 157.17 L282.40 157.73 L283.11 158.37 L283.82 159.17 L284.53 160.06 L285.24 160.95 L285.95 161.80 L286.66 162.64 L287.36 163.48 L288.07 164.31 L288.78 165.16 L289.49 166.02 L290.20 166.89 L290.91 167.79 L291.62 168.73 L292.33 169.70 L293.04 170.71 L293.75 171.78 L294.46 172.91 L295.17 174.11 L295.88 175.36 L296.59 176.66 L297.30 178.00 L298.01 179.37 L298.72 180.76 L299.42 182.17 L300.13 183.57 L300.84 184.97 L301.55 186.36 L302.26 187.75 L302.97 189.14 L303.68 190.56 L304.39 192.02 L305.10 193.53 L305.81 195.11 L306.52 196.79 L307.23 198.62 L307.94 200.53 L308.65 202.47 L309.36 204.36 L310.07 206.15 L310.78 207.81 L311.48 209.40 L312.19 210.93 L312.90 212.43 L313.61 213.91 L314.32 215.38 L315.03 216.86 L315.74 218.36 L316.45 219.92 L317.16 221.53 L317.87 223.18 L318.58 224.83 L319.29 226.48 L320.00 228.10 L320.71 229.67 L321.42 231.17 L322.13 232.58 L322.84 233.88 L323.55 235.04 L324.25 236.08 L324.96 237.04 L325.67 237.94 L326.38 238.80 L327.09 239.60 L327.80 240.37 L328.51 241.12 L329.22 241.83 L329.93 242.54 L330.64 243.23 L331.35 243.92 L332.06 244.62 L332.77 245.32 L333.48 246.00 L334.19 246.66 L334.90 247.31 L335.61 247.93 L336.31 248.52 L337.02 249.09 L337.73 249.64 L338.44 250.19 L339.15 250.73 L339.86 251.26 L340.57 251.77 L341.28 252.26 L341.99 252.74 L342.70 253.19 L343.41 253.61 L344.12 254.01 L344.83 254.38 L345.54 254.74 L346.25 255.10 L346.96 255.43 L347.67 255.76 L348.37 256.08 L349.08 256.39 L349.79 256.69 L350.50 256.98 L351.21 257.27 L351.92 257.54 L352.63 257.80 L353.34 258.06 L354.05 258.31 L354.76 258.55 L355.47 258.78 L356.18 259.01 L356.89 259.22 L357.60 259.44 L358.31 259.64 L359.02 259.84 L359.73 260.03 L360.43 260.22 L361.14 260.40 L361.85 260.58 L362.56 260.76 L363.27 260.92 L363.98 261.09 L364.69 261.25 L365.40 261.40 L366.11 261.55 L366.82 261.70 L367.53 261.85 L368.24 262.00 L368.95 262.14 L369.66 262.29 L370.37 262.43 L371.08 262.57 L371.79 262.71 L372.49 262.84 L373.20 262.97 L373.91 263.10 L374.62 263.22 L375.33 263.34 L376.04 263.45 L376.75 263.55 L377.46 263.65 L378.17 263.74 L378.88 263.83 L379.59 263.90 L380.30 263.98 L381.01 264.05 L381.72 264.11 L382.43 264.18 L383.14 264.24 L383.85 264.31 L384.56 264.37 L385.26 264.43 L385.97 264.48 L386.68 264.54 L387.39 264.59 L388.10 264.65 L388.81 264.70 L389.52 264.75 L390.23 264.80 L390.94 264.85 L391.65 264.90 L392.36 264.94 L393.07 264.99 L393.78 265.03 L394.49 265.08 L395.20 265.12 L395.91 265.17 L396.62 265.21 L397.32 265.25 L398.03 265.30 L398.74 265.34 L399.45 265.38 L400.16 265.42 L400.87 265.47 L401.58 265.51 L402.29 265.55 L403.00 265.60" fill="none" stroke="rgb(0,0,255)" stroke-width="2.1" stroke-dasharray="2.1 5.9"/>
<rect x="328.6" y="13.5" width="68.69999999999999" height="71.2" fill="#fff" stroke="#000" stroke-width="1.6"/>
<path d="M333.8 21.8 L353.2 21.8" stroke="rgb(0,0,255)" stroke-width="0.8" fill="none"/>
<circle cx="333.8" cy="21.8" r="2.1" fill="rgb(0,0,255)"/><circle cx="353.2" cy="21.8" r="2.1" fill="rgb(0,0,255)"/>
<path d="M333.8 35.6 L353.2 35.6" stroke="rgb(255,0,0)" stroke-width="1.3" stroke-dasharray="7.1 2.9" fill="none"/>
<path d="M333.8 49.4 L353.2 49.4" stroke="rgb(0,255,0)" stroke-width="1.5" stroke-dasharray="1.5 2.55" fill="none"/>
<path d="M333.8 63.3 L353.2 63.3" stroke="rgb(188,143,143)" stroke-width="1.7" stroke-dasharray="1.5 4.5 10.5 4.5" fill="none"/>
<path d="M333.8 77.2 L353.2 77.2" stroke="#000" stroke-width="1.4" fill="none"/>
<text x="364.6" y="26.8" font-family="Liberation Serif, serif" font-size="14.2" fill="#000">λ = 4</text>
<text x="364.6" y="40.6" font-family="Liberation Serif, serif" font-size="14.2" fill="#000">λ = 3</text>
<text x="364.6" y="54.4" font-family="Liberation Serif, serif" font-size="14.2" fill="#000">λ = 2</text>
<text x="364.6" y="68.3" font-family="Liberation Serif, serif" font-size="14.2" fill="#000">λ = 1</text>
<text x="361.2" y="82.0" font-family="Liberation Serif, serif" font-size="14.2" fill="#000">BA</text>
<rect x="328.6" y="147.2" width="71.09999999999997" height="54.70000000000002" fill="#fff" stroke="#000" stroke-width="1.6"/>
<path d="M333.8 155.7 L353.2 155.7" stroke="#000" stroke-width="1.3" fill="none"/>
<path d="M333.8 168.3 L353.2 168.3" stroke="rgb(255,0,0)" stroke-width="1.3" stroke-dasharray="7.1 2.9" fill="none"/>
<path d="M333.8 181.2 L353.2 181.2" stroke="rgb(0,0,255)" stroke-width="2.1" stroke-dasharray="2.1 3.2" fill="none"/>
<path d="M333.8 194.3 L353.2 194.3" stroke="rgb(188,143,143)" stroke-width="1.7" stroke-dasharray="1.5 4.5 10.5 4.5" fill="none"/>
<text x="360.0" y="159.89999999999998" font-family="Liberation Serif, serif" font-size="14.2" fill="#000">BA</text>
<text x="360.0" y="172.5" font-family="Liberation Serif, serif" font-size="14.2" fill="#000">L = 12</text>
<text x="360.0" y="185.39999999999998" font-family="Liberation Serif, serif" font-size="14.2" fill="#000">L = 8</text>
<text x="360.0" y="198.5" font-family="Liberation Serif, serif" font-size="14.2" fill="#000">L = 4</text>
<rect x="47.4" y="1.2" width="365.8" height="133.4" fill="none" stroke="#000" stroke-width="1.5"/>
<path d="M47.4 134.6 V268.9 M413.2 134.6 V268.9" fill="none" stroke="#000" stroke-width="1.5"/>
<path d="M46.65 268.9 H413.95" fill="none" stroke="#000" stroke-width="2.0"/>
<path d="M47.40 104.27 L50.60 104.27" stroke="#000" stroke-width="1.5" fill="none"/>
<path d="M413.20 104.27 L410.00 104.27" stroke="#000" stroke-width="1.5" fill="none"/>
<path d="M47.40 73.95 L53.70 73.95" stroke="#000" stroke-width="1.5" fill="none"/>
<path d="M413.20 73.95 L406.90 73.95" stroke="#000" stroke-width="1.5" fill="none"/>
<path d="M47.40 43.62 L50.60 43.62" stroke="#000" stroke-width="1.5" fill="none"/>
<path d="M413.20 43.62 L410.00 43.62" stroke="#000" stroke-width="1.5" fill="none"/>
<path d="M47.40 13.30 L53.70 13.30" stroke="#000" stroke-width="1.5" fill="none"/>
<path d="M413.20 13.30 L406.90 13.30" stroke="#000" stroke-width="1.5" fill="none"/>
<path d="M92.12 134.60 L92.12 131.40" stroke="#000" stroke-width="1.5" fill="none"/>
<path d="M136.75 134.60 L136.75 128.30" stroke="#000" stroke-width="1.5" fill="none"/>
<path d="M181.38 134.60 L181.38 131.40" stroke="#000" stroke-width="1.5" fill="none"/>
<path d="M226.00 134.60 L226.00 128.30" stroke="#000" stroke-width="1.5" fill="none"/>
<path d="M270.62 134.60 L270.62 131.40" stroke="#000" stroke-width="1.5" fill="none"/>
<path d="M315.25 134.60 L315.25 128.30" stroke="#000" stroke-width="1.5" fill="none"/>
<path d="M359.88 134.60 L359.88 131.40" stroke="#000" stroke-width="1.5" fill="none"/>
<path d="M404.50 134.60 L404.50 128.30" stroke="#000" stroke-width="1.5" fill="none"/>
<path d="M47.40 238.35 L50.60 238.35" stroke="#000" stroke-width="1.5" fill="none"/>
<path d="M413.20 238.35 L410.00 238.35" stroke="#000" stroke-width="1.5" fill="none"/>
<path d="M47.40 208.00 L53.70 208.00" stroke="#000" stroke-width="1.5" fill="none"/>
<path d="M413.20 208.00 L406.90 208.00" stroke="#000" stroke-width="1.5" fill="none"/>
<path d="M47.40 177.65 L50.60 177.65" stroke="#000" stroke-width="1.5" fill="none"/>
<path d="M413.20 177.65 L410.00 177.65" stroke="#000" stroke-width="1.5" fill="none"/>
<path d="M47.40 147.30 L53.70 147.30" stroke="#000" stroke-width="1.5" fill="none"/>
<path d="M413.20 147.30 L406.90 147.30" stroke="#000" stroke-width="1.5" fill="none"/>
<path d="M92.12 268.90 L92.12 265.50" stroke="#000" stroke-width="1.5" fill="none"/>
<path d="M136.75 268.90 L136.75 262.40" stroke="#000" stroke-width="1.5" fill="none"/>
<path d="M181.38 268.90 L181.38 265.50" stroke="#000" stroke-width="1.5" fill="none"/>
<path d="M226.00 268.90 L226.00 262.40" stroke="#000" stroke-width="1.5" fill="none"/>
<path d="M270.62 268.90 L270.62 265.50" stroke="#000" stroke-width="1.5" fill="none"/>
<path d="M315.25 268.90 L315.25 262.40" stroke="#000" stroke-width="1.5" fill="none"/>
<path d="M359.88 268.90 L359.88 265.50" stroke="#000" stroke-width="1.5" fill="none"/>
<path d="M404.50 268.90 L404.50 262.40" stroke="#000" stroke-width="1.5" fill="none"/>
<text x="44.6" y="19.199999999999996" font-family="Liberation Serif, serif" font-size="16.2" text-anchor="end" fill="#000" >1</text>
<text x="44.6" y="79.85" font-family="Liberation Serif, serif" font-size="16.2" text-anchor="end" fill="#000" >0.5</text>
<text x="44.6" y="140.6" font-family="Liberation Serif, serif" font-size="16.2" text-anchor="end" fill="#000" >0</text>
<text x="44.6" y="153.2" font-family="Liberation Serif, serif" font-size="16.2" text-anchor="end" fill="#000" >1</text>
<text x="44.6" y="213.9" font-family="Liberation Serif, serif" font-size="16.2" text-anchor="end" fill="#000" >0.5</text>
<text x="44.6" y="274.7" font-family="Liberation Serif, serif" font-size="16.2" text-anchor="end" fill="#000" >0</text>
<text x="47.5" y="283.6" font-family="Liberation Serif, serif" font-size="16.2" text-anchor="middle" fill="#000" >-1.5</text>
<text x="136.75" y="283.6" font-family="Liberation Serif, serif" font-size="16.2" text-anchor="middle" fill="#000" >-1</text>
<text x="226.0" y="283.6" font-family="Liberation Serif, serif" font-size="16.2" text-anchor="middle" fill="#000" >-0.5</text>
<text x="315.25" y="283.6" font-family="Liberation Serif, serif" font-size="16.2" text-anchor="middle" fill="#000" >0</text>
<text x="404.5" y="283.6" font-family="Liberation Serif, serif" font-size="16.2" text-anchor="middle" fill="#000" >0.5</text>
<text x="64.3" y="24.8" font-family="Liberation Serif, serif" font-size="20.2" text-anchor="start" fill="#000" >(a)</text>
<text x="63.0" y="158.8" font-family="Liberation Serif, serif" font-size="20.4" text-anchor="start" fill="#000" >(b)</text>
<text x="211" y="300.2" font-family="Liberation Serif, serif" font-size="18" fill="#000">V<tspan font-size="12.8" dy="7.2">g</tspan><tspan dy="-7.2">/U</tspan></text>
<text transform="translate(13.7 92.60000000000001) rotate(-90)" font-family="Liberation Serif, serif" font-size="18" fill="#000">G<tspan dx="1.2"> /</tspan><tspan dx="0.2"> G</tspan><tspan font-size="13.6" dx="0.6" dy="7.4">0</tspan></text>
<text transform="translate(13.7 226.6) rotate(-90)" font-family="Liberation Serif, serif" font-size="18" fill="#000">G<tspan dx="1.2"> /</tspan><tspan dx="0.2"> G</tspan><tspan font-size="13.6" dx="0.6" dy="7.4">0</tspan></text>
</svg>
</body></html>
